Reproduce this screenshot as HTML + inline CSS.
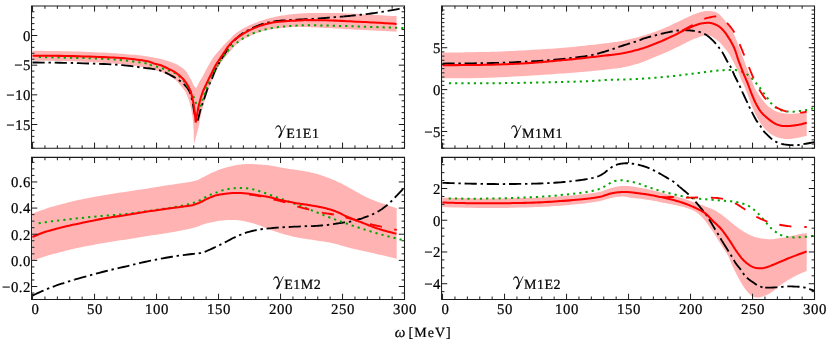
<!DOCTYPE html>
<html><head><meta charset="utf-8"><title>plot</title>
<style>
html,body{margin:0;padding:0;background:#fff;}
body{width:830px;height:341px;overflow:hidden;font-family:"Liberation Serif",serif;}
svg{display:block;}
text{font-family:"Liberation Serif",serif;fill:#000;stroke:#000;stroke-width:0.22px;text-rendering:geometricPrecision;}
.t{font-size:14.8px;letter-spacing:0.5px;}
.gs{font-size:14px;letter-spacing:0.5px;}
.w{font-size:14px;letter-spacing:1px;}
.wi{font-style:italic;font-size:15px;letter-spacing:0;}
</style></head><body>
<svg width="830" height="341" viewBox="0 0 830 341">
<rect width="830" height="341" fill="#fff"/>
<g>
<clipPath id="cp1"><rect x="31.55" y="5.9" width="372.95" height="142.35"/></clipPath>
<g clip-path="url(#cp1)">
<path d="M32.5 50.7 L37.01 50.77 L41.49 50.83 L45.97 50.89 L50.44 50.94 L54.94 51.01 L59.47 51.09 L64.06 51.18 L68.7 51.3 L73.55 51.45 L78.65 51.61 L83.88 51.8 L89.11 52 L94.2 52.21 L99.03 52.41 L103.47 52.61 L107.4 52.8 L110.74 52.98 L113.59 53.14 L116.06 53.31 L118.26 53.47 L120.32 53.64 L122.33 53.81 L124.42 54 L126.7 54.2 L129.14 54.41 L131.6 54.63 L134.08 54.86 L136.56 55.09 L139 55.34 L141.41 55.61 L143.75 55.89 L146 56.2 L148.18 56.53 L150.32 56.88 L152.41 57.25 L154.45 57.63 L156.43 58.03 L158.35 58.44 L160.21 58.87 L162 59.3 L163.73 59.75 L165.41 60.22 L167.04 60.7 L168.6 61.19 L170.09 61.7 L171.51 62.2 L172.85 62.7 L174.1 63.2 L175.25 63.69 L176.3 64.19 L177.26 64.68 L178.16 65.18 L178.99 65.67 L179.78 66.18 L180.55 66.68 L181.3 67.2 L182.01 67.7 L182.67 68.16 L183.27 68.62 L183.84 69.09 L184.4 69.6 L184.95 70.15 L185.51 70.78 L186.1 71.5 L186.73 72.36 L187.39 73.35 L188.06 74.43 L188.72 75.56 L189.37 76.68 L189.98 77.76 L190.53 78.75 L191 79.6 L191.39 80.33 L191.72 80.98 L192 81.56 L192.23 82.08 L192.44 82.56 L192.62 83 L192.81 83.41 L193 83.8 L193.19 84.15 L193.35 84.44 L193.49 84.68 L193.63 84.9 L193.76 85.1 L193.89 85.31 L194.04 85.54 L194.2 85.8 L194.38 86.1 L194.57 86.41 L194.77 86.73 L194.97 87.06 L195.18 87.4 L195.39 87.74 L195.6 88.07 L195.8 88.4 L195.8 88.4 L195.98 88.11 L196.16 87.85 L196.33 87.59 L196.51 87.33 L196.69 87.05 L196.88 86.74 L197.08 86.4 L197.3 86 L197.54 85.55 L197.78 85.05 L198.04 84.52 L198.31 83.96 L198.59 83.37 L198.88 82.78 L199.18 82.19 L199.5 81.6 L199.82 81.05 L200.13 80.55 L200.45 80.06 L200.78 79.55 L201.14 78.99 L201.54 78.35 L201.99 77.6 L202.5 76.7 L203.09 75.62 L203.74 74.36 L204.46 72.99 L205.21 71.53 L205.97 70.05 L206.74 68.58 L207.49 67.19 L208.2 65.9 L208.88 64.71 L209.53 63.57 L210.18 62.46 L210.82 61.39 L211.47 60.34 L212.13 59.31 L212.8 58.3 L213.5 57.3 L214.24 56.3 L215.01 55.31 L215.81 54.33 L216.61 53.37 L217.41 52.44 L218.18 51.55 L218.92 50.7 L219.6 49.9 L220.22 49.17 L220.78 48.5 L221.3 47.89 L221.81 47.31 L222.3 46.74 L222.8 46.18 L223.33 45.6 L223.9 45 L224.5 44.38 L225.12 43.76 L225.75 43.14 L226.39 42.52 L227.05 41.89 L227.72 41.24 L228.41 40.58 L229.1 39.9 L229.81 39.18 L230.54 38.42 L231.29 37.64 L232.05 36.84 L232.81 36.06 L233.58 35.29 L234.34 34.57 L235.1 33.9 L235.85 33.28 L236.6 32.7 L237.35 32.15 L238.09 31.63 L238.84 31.13 L239.59 30.64 L240.35 30.17 L241.1 29.7 L241.86 29.24 L242.62 28.8 L243.38 28.37 L244.15 27.96 L244.92 27.55 L245.68 27.16 L246.44 26.78 L247.2 26.4 L247.91 26.04 L248.57 25.72 L249.19 25.41 L249.83 25.11 L250.51 24.8 L251.28 24.47 L252.16 24.11 L253.2 23.7 L254.41 23.24 L255.78 22.73 L257.26 22.19 L258.82 21.62 L260.43 21.06 L262.05 20.51 L263.65 19.98 L265.2 19.5 L266.71 19.05 L268.22 18.62 L269.73 18.2 L271.25 17.8 L272.77 17.42 L274.28 17.06 L275.79 16.72 L277.3 16.4 L278.8 16.11 L280.3 15.84 L281.8 15.6 L283.3 15.38 L284.8 15.17 L286.3 14.98 L287.8 14.79 L289.3 14.6 L290.78 14.42 L292.24 14.24 L293.68 14.07 L295.12 13.91 L296.6 13.77 L298.13 13.63 L299.72 13.51 L301.4 13.4 L303.12 13.31 L304.85 13.23 L306.62 13.17 L308.45 13.11 L310.37 13.07 L312.42 13.04 L314.62 13.02 L317 13 L319.61 12.99 L322.43 12.98 L325.41 12.99 L328.52 13 L331.69 13.03 L334.88 13.07 L338.03 13.12 L341.1 13.2 L344.06 13.3 L346.95 13.42 L349.82 13.55 L352.69 13.71 L355.63 13.87 L358.66 14.04 L361.84 14.22 L365.2 14.4 L368.78 14.59 L372.54 14.79 L376.44 15 L380.44 15.22 L384.5 15.44 L388.58 15.66 L392.63 15.88 L396.6 16.1 L396.6 31.7 L394.22 31.58 L391.89 31.45 L389.57 31.33 L387.25 31.21 L384.89 31.09 L382.46 30.96 L379.94 30.83 L377.3 30.7 L374.52 30.56 L371.61 30.42 L368.61 30.27 L365.55 30.12 L362.45 29.97 L359.34 29.82 L356.25 29.66 L353.2 29.5 L350.21 29.33 L347.26 29.16 L344.32 28.98 L341.38 28.8 L338.4 28.62 L335.38 28.44 L332.28 28.27 L329.1 28.1 L325.7 27.93 L322.06 27.75 L318.29 27.57 L314.5 27.39 L310.8 27.22 L307.31 27.08 L304.14 26.97 L301.4 26.9 L299.14 26.87 L297.28 26.87 L295.72 26.9 L294.37 26.95 L293.14 27.02 L291.95 27.11 L290.7 27.2 L289.3 27.3 L287.8 27.41 L286.3 27.53 L284.8 27.67 L283.3 27.81 L281.8 27.97 L280.3 28.14 L278.8 28.32 L277.3 28.5 L275.79 28.68 L274.28 28.85 L272.77 29.03 L271.25 29.21 L269.73 29.42 L268.22 29.67 L266.71 29.96 L265.2 30.3 L263.7 30.7 L262.2 31.14 L260.7 31.62 L259.2 32.14 L257.7 32.69 L256.2 33.27 L254.7 33.87 L253.2 34.5 L251.65 35.17 L250.03 35.9 L248.38 36.67 L246.75 37.46 L245.17 38.25 L243.67 39.04 L242.3 39.79 L241.1 40.5 L240.08 41.17 L239.2 41.83 L238.44 42.46 L237.77 43.08 L237.17 43.68 L236.61 44.27 L236.06 44.84 L235.5 45.4 L234.96 45.92 L234.49 46.41 L234.06 46.86 L233.66 47.31 L233.26 47.76 L232.84 48.23 L232.4 48.74 L231.9 49.3 L231.35 49.92 L230.75 50.58 L230.13 51.28 L229.49 52 L228.85 52.73 L228.21 53.47 L227.59 54.19 L227 54.9 L226.43 55.59 L225.88 56.27 L225.34 56.94 L224.81 57.62 L224.28 58.3 L223.75 58.99 L223.23 59.68 L222.7 60.4 L222.18 61.09 L221.67 61.73 L221.17 62.36 L220.68 63.01 L220.17 63.72 L219.64 64.51 L219.09 65.43 L218.5 66.5 L217.86 67.8 L217.15 69.33 L216.41 71 L215.66 72.76 L214.92 74.51 L214.22 76.18 L213.57 77.7 L213 79 L212.53 80.04 L212.13 80.87 L211.79 81.57 L211.48 82.18 L211.19 82.77 L210.89 83.4 L210.57 84.12 L210.2 85 L209.79 86.01 L209.36 87.09 L208.91 88.23 L208.45 89.42 L207.99 90.66 L207.52 91.94 L207.06 93.26 L206.6 94.6 L206.14 96.01 L205.67 97.51 L205.2 99.06 L204.73 100.65 L204.26 102.24 L203.82 103.79 L203.39 105.29 L203 106.7 L202.64 108.02 L202.3 109.27 L201.99 110.48 L201.69 111.65 L201.4 112.8 L201.13 113.95 L200.86 115.11 L200.6 116.3 L200.37 117.45 L200.18 118.52 L200.01 119.55 L199.85 120.61 L199.67 121.73 L199.45 122.97 L199.16 124.38 L198.8 126 L198.34 127.88 L197.81 129.97 L197.22 132.23 L196.59 134.61 L195.93 137.06 L195.27 139.52 L194.62 141.95 L194 144.3 L194 144.3 L193.93 141.96 L193.86 139.55 L193.8 137.11 L193.74 134.69 L193.67 132.32 L193.59 130.05 L193.5 127.93 L193.4 126 L193.29 124.29 L193.17 122.78 L193.05 121.42 L192.91 120.16 L192.76 118.94 L192.6 117.73 L192.41 116.46 L192.2 115.1 L191.97 113.64 L191.71 112.12 L191.45 110.58 L191.16 109.02 L190.85 107.48 L190.52 105.96 L190.17 104.5 L189.8 103.1 L189.38 101.73 L188.91 100.34 L188.4 98.97 L187.87 97.65 L187.36 96.4 L186.88 95.26 L186.45 94.25 L186.1 93.4 L185.85 92.78 L185.71 92.37 L185.63 92.13 L185.57 91.98 L185.5 91.85 L185.39 91.69 L185.21 91.43 L184.9 91 L184.48 90.41 L183.98 89.73 L183.42 88.98 L182.8 88.18 L182.15 87.34 L181.47 86.5 L180.78 85.68 L180.1 84.9 L179.45 84.15 L178.83 83.41 L178.21 82.67 L177.56 81.93 L176.85 81.19 L176.06 80.44 L175.15 79.68 L174.1 78.9 L172.91 78.09 L171.6 77.24 L170.18 76.38 L168.68 75.51 L167.09 74.65 L165.44 73.82 L163.74 73.03 L162 72.3 L160.2 71.63 L158.32 70.99 L156.37 70.38 L154.37 69.81 L152.32 69.27 L150.23 68.76 L148.12 68.27 L146 67.8 L143.86 67.36 L141.7 66.96 L139.51 66.59 L137.29 66.24 L135.03 65.92 L132.73 65.6 L130.39 65.3 L128 65 L125.67 64.71 L123.46 64.44 L121.26 64.18 L118.99 63.94 L116.56 63.7 L113.88 63.47 L110.86 63.23 L107.4 63 L103.41 62.76 L98.94 62.51 L94.1 62.26 L89.03 62.01 L83.82 61.78 L78.62 61.56 L73.54 61.37 L68.7 61.2 L64.06 61.07 L59.47 60.97 L54.94 60.89 L50.44 60.83 L45.97 60.77 L41.49 60.72 L37.01 60.67 L32.5 60.6 Z" fill="#ffb3b3" stroke="none"/>
<path d="M32.5 62.5 L37.01 62.54 L41.49 62.58 L45.97 62.61 L50.44 62.64 L54.94 62.68 L59.47 62.74 L64.06 62.81 L68.7 62.9 L73.55 63.02 L78.65 63.16 L83.88 63.32 L89.11 63.49 L94.2 63.67 L99.03 63.85 L103.47 64.03 L107.4 64.2 L110.74 64.36 L113.59 64.52 L116.06 64.67 L118.26 64.83 L120.32 64.99 L122.33 65.17 L124.42 65.37 L126.7 65.6 L129.22 65.87 L131.88 66.2 L134.61 66.55 L137.31 66.91 L139.88 67.27 L142.25 67.6 L144.32 67.88 L146 68.1 L147.18 68.24 L147.89 68.3 L148.27 68.31 L148.46 68.29 L148.59 68.28 L148.8 68.29 L149.22 68.36 L150 68.5 L151.12 68.7 L152.44 68.92 L153.91 69.16 L155.49 69.45 L157.14 69.78 L158.81 70.16 L160.44 70.6 L162 71.1 L163.54 71.7 L165.13 72.39 L166.75 73.15 L168.35 73.96 L169.92 74.79 L171.42 75.6 L172.82 76.38 L174.1 77.1 L175.25 77.76 L176.3 78.39 L177.26 79 L178.16 79.59 L178.99 80.17 L179.78 80.74 L180.55 81.32 L181.3 81.9 L182.02 82.48 L182.69 83.04 L183.32 83.59 L183.92 84.14 L184.49 84.7 L185.03 85.28 L185.57 85.87 L186.1 86.5 L186.62 87.14 L187.13 87.78 L187.63 88.43 L188.1 89.11 L188.56 89.81 L188.99 90.55 L189.41 91.35 L189.8 92.2 L190.16 93.1 L190.49 94.02 L190.8 94.98 L191.08 95.98 L191.36 97.05 L191.63 98.18 L191.91 99.39 L192.2 100.7 L192.5 102.15 L192.81 103.77 L193.13 105.49 L193.44 107.26 L193.74 109.04 L194.04 110.78 L194.33 112.41 L194.6 113.9 L194.85 115.23 L195.09 116.46 L195.32 117.61 L195.54 118.71 L195.75 119.77 L195.96 120.82 L196.18 121.89 L196.4 123 L196.4 123 L196.62 122.5 L196.84 122.04 L197.05 121.6 L197.26 121.16 L197.48 120.67 L197.71 120.12 L197.95 119.47 L198.2 118.7 L198.46 117.81 L198.72 116.82 L198.98 115.75 L199.25 114.61 L199.54 113.41 L199.86 112.15 L200.21 110.84 L200.6 109.5 L201.04 108.08 L201.54 106.57 L202.07 104.98 L202.62 103.35 L203.19 101.71 L203.75 100.08 L204.29 98.5 L204.8 97 L205.28 95.54 L205.76 94.07 L206.22 92.62 L206.68 91.2 L207.12 89.83 L207.56 88.53 L207.98 87.31 L208.4 86.2 L208.8 85.24 L209.18 84.43 L209.54 83.72 L209.89 83.07 L210.25 82.44 L210.61 81.76 L211 81 L211.4 80.1 L211.81 79.08 L212.22 77.98 L212.64 76.81 L213.06 75.6 L213.51 74.35 L214 73.07 L214.52 71.79 L215.1 70.5 L215.74 69.18 L216.45 67.81 L217.21 66.4 L217.99 64.97 L218.79 63.56 L219.59 62.18 L220.36 60.85 L221.1 59.6 L221.81 58.42 L222.5 57.31 L223.19 56.23 L223.86 55.19 L224.53 54.18 L225.19 53.19 L225.85 52.19 L226.5 51.2 L227.11 50.22 L227.67 49.28 L228.2 48.36 L228.74 47.44 L229.31 46.52 L229.94 45.59 L230.66 44.62 L231.5 43.6 L232.46 42.52 L233.52 41.38 L234.65 40.2 L235.86 39 L237.11 37.81 L238.42 36.65 L239.75 35.54 L241.1 34.5 L242.49 33.52 L243.95 32.58 L245.46 31.68 L247 30.81 L248.56 29.97 L250.12 29.18 L251.68 28.42 L253.2 27.7 L254.7 27.02 L256.2 26.38 L257.7 25.78 L259.2 25.22 L260.7 24.69 L262.2 24.2 L263.7 23.73 L265.2 23.3 L266.71 22.9 L268.22 22.55 L269.73 22.23 L271.25 21.94 L272.77 21.68 L274.28 21.43 L275.79 21.21 L277.3 21 L278.79 20.81 L280.27 20.65 L281.73 20.52 L283.2 20.4 L284.68 20.3 L286.18 20.2 L287.72 20.1 L289.3 20 L290.93 19.9 L292.6 19.8 L294.3 19.72 L296.03 19.63 L297.77 19.55 L299.51 19.47 L301.26 19.39 L303 19.3 L304.75 19.21 L306.52 19.13 L308.31 19.05 L310.1 18.97 L311.88 18.88 L313.63 18.8 L315.34 18.7 L317 18.6 L318.6 18.49 L320.16 18.37 L321.68 18.24 L323.18 18.11 L324.65 17.98 L326.13 17.85 L327.61 17.72 L329.1 17.6 L330.6 17.48 L332.1 17.38 L333.6 17.27 L335.1 17.16 L336.6 17.06 L338.1 16.94 L339.6 16.83 L341.1 16.7 L342.61 16.56 L343.6 16.47" fill="none" stroke="#000" stroke-width="1.85" stroke-dasharray="12.2 3.8 2.4 3.8"/>
<path d="M343.6 16.47 L344.12 16.42 L345.63 16.27 L347.15 16.12 L348.67 15.96 L350.18 15.81 L351.69 15.65 L353.2 15.5 L354.7 15.35 L356.2 15.21 L357.7 15.07 L359.2 14.93 L360.7 14.79 L362.2 14.64 L363.7 14.47 L365.2 14.3 L366.71 14.11 L368.22 13.91 L369.73 13.71 L371.25 13.49 L372.77 13.27 L374.28 13.05 L375.79 12.83 L377.3 12.6 L378.81 12.37 L380.33 12.14 L381.86 11.91 L383.38 11.67 L384.88 11.44 L386.38 11.19 L387.85 10.95 L389.3 10.7 L390.76 10.44 L392.26 10.16 L393.76 9.87 L395.23 9.58 L396.64 9.3 L397.96 9.04 L399.16 8.8 L400.2 8.6 L401.05 8.44 L401.74 8.31 L402.3 8.2 L402.76 8.12 L403.18 8.04 L403.58 7.97 L404.01 7.89 L404.5 7.8" fill="none" stroke="#000" stroke-width="1.85" stroke-dasharray="12.2 3.8 2.4 3.8"/>
<path d="M38.8 57.05 L47.58 57.28 L56.65 57.48 L65.84 57.68 L74.97 57.88 L83.87 58.1 L92.36 58.35 L100.26 58.64 L107.4 59 L113.89 59.44 L119.94 59.97 L125.54 60.55 L130.66 61.16 L135.29 61.77 L139.4 62.35 L142.98 62.87 L146 63.3 L148.2 63.63 L149.49 63.88 L150.09 64.08 L150.26 64.24 L150.21 64.4 L150.2 64.58 L150.45 64.81 L151.2 65.1 L152.39 65.46 L153.76 65.86 L155.26 66.29 L156.86 66.75 L158.51 67.23 L160.16 67.72 L161.77 68.21 L163.3 68.7 L164.79 69.19 L166.32 69.69 L167.85 70.19 L169.36 70.71 L170.83 71.23 L172.23 71.77 L173.52 72.33 L174.7 72.9 L175.74 73.49 L176.66 74.09 L177.49 74.71 L178.25 75.34 L178.96 75.98 L179.64 76.64 L180.31 77.31 L181 78 L181.69 78.7 L182.36 79.43 L183.01 80.16 L183.64 80.91 L184.26 81.67 L184.85 82.44 L185.43 83.22 L186 84 L186.55 84.79 L187.08 85.6 L187.6 86.43 L188.1 87.26 L188.59 88.08 L189.07 88.91 L189.54 89.71 L190 90.5 L190.46 91.26 L190.92 92.01 L191.36 92.75 L191.8 93.47 L192.22 94.2 L192.63 94.92 L193.03 95.66 L193.4 96.4 L193.75 97.14 L194.06 97.88 L194.36 98.61 L194.64 99.35 L194.92 100.1 L195.2 100.87 L195.49 101.67 L195.8 102.5 L196.12 103.37 L196.45 104.28 L196.79 105.21 L197.13 106.16 L197.47 107.13 L197.82 108.09 L198.16 109.05 L198.5 110 L198.5 110 L198.69 109.76 L198.87 109.57 L199.05 109.38 L199.23 109.19 L199.42 108.97 L199.6 108.7 L199.8 108.35 L200 107.9 L200.21 107.33 L200.43 106.66 L200.65 105.91 L200.88 105.11 L201.11 104.28 L201.34 103.46 L201.57 102.65 L201.8 101.9 L202.02 101.2 L202.24 100.52 L202.45 99.86 L202.66 99.21 L202.88 98.54 L203.11 97.86 L203.35 97.15 L203.6 96.4 L203.87 95.59 L204.16 94.73 L204.46 93.84 L204.76 92.93 L205.07 92.02 L205.39 91.14 L205.7 90.29 L206 89.5 L206.29 88.81 L206.56 88.21 L206.82 87.67 L207.08 87.14 L207.36 86.59 L207.67 85.95 L208.01 85.21 L208.4 84.3 L208.85 83.18 L209.36 81.87 L209.9 80.42 L210.47 78.91 L211.06 77.4 L211.63 75.95 L212.18 74.63 L212.7 73.5 L213.19 72.57 L213.66 71.79 L214.13 71.11 L214.58 70.51 L215.02 69.94 L215.46 69.37 L215.88 68.77 L216.3 68.1 L216.7 67.36 L217.08 66.59 L217.44 65.81 L217.8 65.01 L218.16 64.22 L218.52 63.45 L218.9 62.71 L219.3 62 L219.72 61.34 L220.14 60.72 L220.58 60.13 L221.03 59.56 L221.48 58.99 L221.94 58.41 L222.42 57.82 L222.9 57.2 L223.4 56.55 L223.91 55.87 L224.44 55.17 L224.98 54.47 L225.52 53.77 L226.06 53.09 L226.59 52.43 L227.1 51.8 L227.6 51.21 L228.08 50.63 L228.55 50.08 L229.02 49.54 L229.49 49.02 L229.98 48.51 L230.48 48 L231 47.5 L231.55 47.01 L232.11 46.54 L232.69 46.08 L233.28 45.62 L233.87 45.18 L234.48 44.73 L235.09 44.27 L235.7 43.8 L236.32 43.32 L236.94 42.82 L237.58 42.32 L238.22 41.82 L238.86 41.32 L239.51 40.83 L240.15 40.36 L240.8 39.9 L241.44 39.46 L242.08 39.04 L242.72 38.63 L243.36 38.23 L244.01 37.84 L244.66 37.46 L245.33 37.08 L246 36.7 L246.69 36.33 L247.38 35.96 L248.09 35.59 L248.8 35.24 L249.52 34.89 L250.24 34.55 L250.97 34.22 L251.7 33.9 L252.44 33.59 L253.18 33.3 L253.93 33.01 L254.68 32.74 L255.44 32.47 L256.19 32.21 L256.95 31.95 L257.7 31.7 L258.45 31.45 L259.2 31.21 L259.95 30.98 L260.7 30.75 L261.45 30.53 L262.2 30.31 L262.95 30.1 L263.7 29.9 L264.45 29.7 L265.2 29.51 L265.95 29.33 L266.7 29.16 L267.45 28.99 L268.2 28.82 L268.95 28.66 L269.7 28.5 L270.45 28.35 L271.19 28.19 L271.93 28.05 L272.67 27.91 L273.42 27.77 L274.17 27.64 L274.93 27.52 L275.7 27.4 L276.48 27.29 L277.28 27.19 L278.09 27.1 L278.9 27.02 L279.71 26.94 L280.52 26.86 L281.32 26.78 L282.1 26.7 L282.87 26.62 L283.62 26.54 L284.37 26.46 L285.11 26.38 L285.85 26.31 L286.59 26.23 L287.34 26.16 L288.1 26.1 L288.87 26.04 L289.65 25.98 L290.44 25.93 L291.23 25.88 L292.02 25.83 L292.81 25.78 L293.61 25.74 L294.4 25.7 L295.2 25.67 L296 25.64 L296.81 25.62 L297.62 25.6 L298.42 25.58 L299.23 25.56 L300.02 25.53 L300.8 25.5 L301.44 25.45 L301.89 25.39 L302.26 25.32 L302.66 25.25 L303.2 25.19 L303.99 25.13 L305.16 25.1 L306.8 25.1 L308.99 25.13 L311.65 25.18 L314.67 25.25 L317.94 25.33 L321.37 25.42 L324.84 25.52 L328.26 25.61 L331.5 25.7 L334.64 25.78 L337.8 25.86 L340.97 25.95 L344.15 26.03 L347.33 26.12 L350.5 26.21 L353.66 26.3 L356.8 26.4 L359.96 26.5 L363.16 26.62 L366.37 26.74 L369.56 26.86 L372.7 26.98 L375.76 27.09 L378.7 27.2 L381.5 27.3 L384.22 27.39 L386.93 27.48 L389.58 27.57 L392.12 27.65 L394.51 27.72 L396.68 27.79 L398.59 27.85 L400.2 27.9 L401.43 27.94 L402.29 27.96 L402.87 27.97 L403.25 27.98 L403.52 27.98 L403.76 27.99 L404.06 27.99 L404.5 28" fill="none" stroke="#04a604" stroke-width="2" stroke-dasharray="2.2 4.03" stroke-dashoffset="6.23"/>
<path d="M32.5 55.8 L37.01 55.82 L41.49 55.82 L45.97 55.83 L50.44 55.83 L54.94 55.84 L59.47 55.87 L64.06 55.92 L68.7 56 L73.55 56.11 L78.65 56.25 L83.88 56.41 L89.11 56.59 L94.2 56.77 L99.03 56.96 L103.47 57.13 L107.4 57.3 L110.74 57.45 L113.59 57.58 L116.06 57.7 L118.26 57.82 L120.32 57.96 L122.33 58.11 L124.42 58.29 L126.7 58.5 L129.19 58.75 L131.79 59.04 L134.43 59.35 L137.06 59.67 L139.59 60.01 L141.97 60.35 L144.13 60.68 L146 61 L147.54 61.3 L148.79 61.61 L149.83 61.91 L150.71 62.21 L151.5 62.5 L152.26 62.8 L153.08 63.1 L154 63.4 L154.97 63.68 L155.9 63.92 L156.82 64.15 L157.74 64.38 L158.7 64.64 L159.71 64.95 L160.8 65.33 L162 65.8 L163.35 66.37 L164.85 67.04 L166.45 67.77 L168.1 68.56 L169.74 69.36 L171.32 70.17 L172.79 70.96 L174.1 71.7 L175.25 72.41 L176.3 73.1 L177.26 73.79 L178.16 74.47 L178.99 75.15 L179.78 75.83 L180.55 76.51 L181.3 77.2 L182.02 77.89 L182.69 78.57 L183.32 79.24 L183.92 79.92 L184.49 80.62 L185.03 81.32 L185.57 82.05 L186.1 82.8 L186.63 83.59 L187.14 84.41 L187.64 85.26 L188.12 86.12 L188.59 86.98 L189.02 87.84 L189.43 88.68 L189.8 89.5 L190.13 90.26 L190.42 90.97 L190.67 91.64 L190.9 92.32 L191.12 93.02 L191.33 93.79 L191.56 94.64 L191.8 95.6 L192.06 96.68 L192.33 97.86 L192.61 99.11 L192.89 100.43 L193.16 101.79 L193.42 103.19 L193.67 104.59 L193.9 106 L194.12 107.47 L194.32 109.06 L194.52 110.71 L194.71 112.37 L194.88 113.98 L195.04 115.49 L195.18 116.85 L195.3 118 L195.4 118.92 L195.47 119.65 L195.52 120.24 L195.56 120.72 L195.59 121.14 L195.62 121.55 L195.66 121.99 L195.7 122.5 L195.7 122.5 L195.76 122.09 L195.81 121.77 L195.84 121.49 L195.88 121.19 L195.94 120.81 L196.02 120.31 L196.13 119.62 L196.3 118.7 L196.52 117.49 L196.77 116.04 L197.06 114.39 L197.38 112.62 L197.71 110.78 L198.07 108.94 L198.43 107.16 L198.8 105.5 L199.18 103.9 L199.59 102.29 L200.01 100.68 L200.45 99.1 L200.89 97.56 L201.34 96.08 L201.77 94.69 L202.2 93.4 L202.61 92.24 L203.02 91.19 L203.43 90.23 L203.83 89.33 L204.24 88.47 L204.65 87.61 L205.07 86.73 L205.5 85.8 L205.95 84.83 L206.41 83.83 L206.88 82.83 L207.35 81.83 L207.82 80.84 L208.29 79.86 L208.75 78.91 L209.2 78 L209.64 77.12 L210.06 76.26 L210.49 75.43 L210.91 74.61 L211.32 73.81 L211.72 73.03 L212.11 72.26 L212.5 71.5 L212.86 70.76 L213.2 70.06 L213.52 69.38 L213.84 68.71 L214.16 68.04 L214.51 67.36 L214.88 66.65 L215.3 65.9 L215.76 65.12 L216.25 64.32 L216.77 63.5 L217.31 62.66 L217.87 61.81 L218.44 60.95 L219.02 60.08 L219.6 59.2 L220.2 58.3 L220.82 57.37 L221.45 56.42 L222.1 55.47 L222.75 54.52 L223.38 53.58 L224 52.67 L224.6 51.8 L225.16 50.97 L225.68 50.17 L226.18 49.39 L226.68 48.63 L227.18 47.88 L227.71 47.13 L228.28 46.37 L228.9 45.6 L229.59 44.8 L230.32 43.98 L231.09 43.15 L231.89 42.33 L232.71 41.51 L233.52 40.73 L234.32 39.99 L235.1 39.3 L235.86 38.67 L236.61 38.09 L237.36 37.54 L238.11 37.03 L238.85 36.54 L239.6 36.06 L240.35 35.58 L241.1 35.1 L241.86 34.62 L242.62 34.14 L243.38 33.68 L244.15 33.23 L244.92 32.78 L245.68 32.34 L246.44 31.92 L247.2 31.5 L247.95 31.09 L248.71 30.69 L249.46 30.3 L250.21 29.93 L250.95 29.55 L251.7 29.19 L252.45 28.84 L253.2 28.5 L253.95 28.17 L254.7 27.84 L255.45 27.53 L256.2 27.22 L256.95 26.93 L257.7 26.64 L258.45 26.37 L259.2 26.1 L259.95 25.84 L260.7 25.6 L261.45 25.37 L262.19 25.14 L262.94 24.93 L263.69 24.71 L264.45 24.51 L265.2 24.3 L265.96 24.09 L266.72 23.89 L267.48 23.69 L268.25 23.49 L269.02 23.31 L269.78 23.13 L270.54 22.96 L271.3 22.8 L272.01 22.66 L272.67 22.54 L273.29 22.42 L273.93 22.32 L274.61 22.22 L275.38 22.12 L276.26 22.01 L277.3 21.9 L278.51 21.78 L279.88 21.65 L281.36 21.51 L282.92 21.38 L284.53 21.24 L286.15 21.12 L287.75 21 L289.3 20.9 L290.87 20.81 L292.52 20.74 L294.2 20.67 L295.88 20.61 L297.48 20.55 L298.97 20.5 L300.29 20.45 L301.4 20.4 L302.12 20.35 L302.42 20.3 L302.47 20.25 L302.45 20.2 L302.52 20.16 L302.86 20.13 L303.63 20.11 L305 20.1 L307.03 20.1 L309.58 20.11 L312.54 20.13 L315.77 20.16 L319.16 20.2 L322.59 20.25 L325.95 20.32 L329.1 20.4 L332.11 20.5 L335.12 20.62 L338.14 20.75 L341.15 20.89 L344.16 21.05 L347.18 21.2 L350.19 21.35 L353.2 21.5 L356.25 21.65 L359.34 21.79 L362.45 21.94 L365.55 22.09 L368.61 22.25 L371.61 22.4 L374.52 22.55 L377.3 22.7 L379.94 22.85 L382.46 23 L384.89 23.15 L387.25 23.3 L389.57 23.45 L391.89 23.6 L394.22 23.75 L396.6 23.9" fill="none" stroke="#ff0000" stroke-width="2.05"/>
</g>
<path d="M32.55 5.9 v5.7 M32.55 148.25 v-5.7 M44.95 5.9 v2.9 M44.95 148.25 v-2.9 M57.35 5.9 v2.9 M57.35 148.25 v-2.9 M69.75 5.9 v2.9 M69.75 148.25 v-2.9 M82.15 5.9 v2.9 M82.15 148.25 v-2.9 M94.55 5.9 v5.7 M94.55 148.25 v-5.7 M106.95 5.9 v2.9 M106.95 148.25 v-2.9 M119.35 5.9 v2.9 M119.35 148.25 v-2.9 M131.75 5.9 v2.9 M131.75 148.25 v-2.9 M144.15 5.9 v2.9 M144.15 148.25 v-2.9 M156.55 5.9 v5.7 M156.55 148.25 v-5.7 M168.95 5.9 v2.9 M168.95 148.25 v-2.9 M181.35 5.9 v2.9 M181.35 148.25 v-2.9 M193.75 5.9 v2.9 M193.75 148.25 v-2.9 M206.15 5.9 v2.9 M206.15 148.25 v-2.9 M218.55 5.9 v5.7 M218.55 148.25 v-5.7 M230.95 5.9 v2.9 M230.95 148.25 v-2.9 M243.35 5.9 v2.9 M243.35 148.25 v-2.9 M255.75 5.9 v2.9 M255.75 148.25 v-2.9 M268.15 5.9 v2.9 M268.15 148.25 v-2.9 M280.55 5.9 v5.7 M280.55 148.25 v-5.7 M292.95 5.9 v2.9 M292.95 148.25 v-2.9 M305.35 5.9 v2.9 M305.35 148.25 v-2.9 M317.75 5.9 v2.9 M317.75 148.25 v-2.9 M330.15 5.9 v2.9 M330.15 148.25 v-2.9 M342.55 5.9 v5.7 M342.55 148.25 v-5.7 M354.95 5.9 v2.9 M354.95 148.25 v-2.9 M367.35 5.9 v2.9 M367.35 148.25 v-2.9 M379.75 5.9 v2.9 M379.75 148.25 v-2.9 M392.15 5.9 v2.9 M392.15 148.25 v-2.9 M404.55 5.9 v5.7 M404.55 148.25 v-5.7 M31.55 148.23 h2.9 M404.5 148.23 h-2.9 M31.55 142.3 h2.9 M404.5 142.3 h-2.9 M31.55 136.37 h2.9 M404.5 136.37 h-2.9 M31.55 130.43 h2.9 M404.5 130.43 h-2.9 M31.55 124.5 h5.7 M404.5 124.5 h-5.7 M31.55 118.57 h2.9 M404.5 118.57 h-2.9 M31.55 112.63 h2.9 M404.5 112.63 h-2.9 M31.55 106.7 h2.9 M404.5 106.7 h-2.9 M31.55 100.77 h2.9 M404.5 100.77 h-2.9 M31.55 94.83 h5.7 M404.5 94.83 h-5.7 M31.55 88.9 h2.9 M404.5 88.9 h-2.9 M31.55 82.97 h2.9 M404.5 82.97 h-2.9 M31.55 77.03 h2.9 M404.5 77.03 h-2.9 M31.55 71.1 h2.9 M404.5 71.1 h-2.9 M31.55 65.17 h5.7 M404.5 65.17 h-5.7 M31.55 59.23 h2.9 M404.5 59.23 h-2.9 M31.55 53.3 h2.9 M404.5 53.3 h-2.9 M31.55 47.37 h2.9 M404.5 47.37 h-2.9 M31.55 41.43 h2.9 M404.5 41.43 h-2.9 M31.55 35.5 h5.7 M404.5 35.5 h-5.7 M31.55 29.57 h2.9 M404.5 29.57 h-2.9 M31.55 23.63 h2.9 M404.5 23.63 h-2.9 M31.55 17.7 h2.9 M404.5 17.7 h-2.9 M31.55 11.77 h2.9 M404.5 11.77 h-2.9" stroke="#1c1c1c" stroke-width="1.0" fill="none"/>
<path d="M31.55 5.9 H404.5 V148.25 H31.55 Z" fill="none" stroke="#1c1c1c" stroke-width="1.05"/>
</g>
<g>
<clipPath id="cp2"><rect x="441.55" y="5.9" width="372.95" height="142.35"/></clipPath>
<g clip-path="url(#cp2)">
<path d="M442.4 52.7 L448.29 52.6 L454.41 52.5 L460.63 52.4 L466.8 52.3 L472.78 52.2 L478.44 52.1 L483.62 52 L488.2 51.9 L492.04 51.8 L495.23 51.72 L497.93 51.63 L500.31 51.54 L502.54 51.45 L504.79 51.35 L507.22 51.23 L510 51.1 L513.1 50.95 L516.33 50.78 L519.66 50.59 L523.06 50.4 L526.47 50.2 L529.85 50 L533.18 49.8 L536.4 49.6 L539.52 49.41 L542.59 49.22 L545.61 49.04 L548.59 48.85 L551.56 48.66 L554.53 48.45 L557.5 48.23 L560.5 48 L563.51 47.75 L566.52 47.49 L569.54 47.21 L572.55 46.92 L575.56 46.63 L578.58 46.33 L581.59 46.02 L584.6 45.7 L587.68 45.37 L590.85 45.02 L594.06 44.66 L597.26 44.29 L600.37 43.93 L603.36 43.57 L606.15 43.22 L608.7 42.9 L610.95 42.61 L612.92 42.35 L614.7 42.11 L616.35 41.88 L617.94 41.64 L619.55 41.37 L621.25 41.06 L623.1 40.7 L625.1 40.29 L627.17 39.83 L629.29 39.35 L631.45 38.84 L633.62 38.3 L635.78 37.75 L637.91 37.18 L640 36.6 L642.07 36 L644.15 35.37 L646.23 34.72 L648.29 34.06 L650.32 33.38 L652.29 32.71 L654.19 32.05 L656 31.4 L657.71 30.77 L659.32 30.15 L660.86 29.54 L662.35 28.93 L663.81 28.32 L665.25 27.69 L666.71 27.06 L668.2 26.4 L669.71 25.72 L671.21 25.02 L672.71 24.31 L674.21 23.59 L675.7 22.86 L677.2 22.13 L678.7 21.41 L680.2 20.7 L681.74 19.98 L683.32 19.23 L684.92 18.47 L686.51 17.72 L688.07 16.99 L689.58 16.3 L690.99 15.67 L692.3 15.1 L693.49 14.61 L694.59 14.17 L695.62 13.78 L696.58 13.43 L697.5 13.12 L698.38 12.83 L699.24 12.56 L700.1 12.3 L700.94 12.05 L701.72 11.83 L702.48 11.63 L703.21 11.46 L703.92 11.3 L704.64 11.18 L705.36 11.08 L706.1 11 L706.86 10.95 L707.62 10.92 L708.38 10.92 L709.15 10.94 L709.92 10.99 L710.68 11.06 L711.44 11.17 L712.2 11.3 L712.95 11.45 L713.7 11.59 L714.44 11.76 L715.19 11.96 L715.93 12.2 L716.68 12.52 L717.44 12.91 L718.2 13.4 L718.98 14.01 L719.78 14.72 L720.59 15.53 L721.4 16.39 L722.2 17.3 L723 18.22 L723.76 19.13 L724.5 20 L725.21 20.86 L725.91 21.74 L726.6 22.63 L727.27 23.52 L727.92 24.42 L728.54 25.3 L729.13 26.16 L729.7 27 L730.23 27.81 L730.73 28.6 L731.19 29.37 L731.64 30.13 L732.06 30.88 L732.48 31.64 L732.89 32.41 L733.3 33.2 L733.71 34.02 L734.12 34.86 L734.52 35.71 L734.91 36.57 L735.29 37.42 L735.65 38.25 L735.99 39.04 L736.3 39.8 L736.58 40.5 L736.82 41.16 L737.04 41.79 L737.24 42.39 L737.43 42.99 L737.64 43.6 L737.85 44.23 L738.1 44.9 L738.36 45.57 L738.63 46.23 L738.9 46.89 L739.19 47.56 L739.49 48.27 L739.8 49.04 L740.14 49.88 L740.5 50.8 L740.89 51.83 L741.32 52.96 L741.76 54.16 L742.22 55.42 L742.7 56.7 L743.17 57.99 L743.64 59.27 L744.1 60.5 L744.56 61.73 L745.02 62.98 L745.49 64.25 L745.95 65.51 L746.41 66.74 L746.86 67.93 L747.29 69.05 L747.7 70.1 L748.09 71.06 L748.48 71.94 L748.84 72.76 L749.2 73.53 L749.54 74.28 L749.88 75.01 L750.19 75.75 L750.5 76.5 L750.78 77.25 L751.02 77.95 L751.24 78.64 L751.45 79.33 L751.67 80.03 L751.91 80.77 L752.18 81.55 L752.5 82.4 L752.86 83.33 L753.26 84.33 L753.68 85.39 L754.12 86.47 L754.58 87.56 L755.07 88.65 L755.58 89.7 L756.1 90.7 L756.65 91.66 L757.24 92.61 L757.85 93.53 L758.48 94.44 L759.11 95.34 L759.75 96.21 L760.38 97.06 L761 97.9 L761.6 98.72 L762.21 99.53 L762.81 100.32 L763.41 101.09 L764 101.83 L764.6 102.55 L765.2 103.24 L765.8 103.9 L766.39 104.52 L766.97 105.09 L767.55 105.64 L768.12 106.16 L768.71 106.66 L769.32 107.14 L769.94 107.62 L770.6 108.1 L771.28 108.58 L771.96 109.06 L772.65 109.53 L773.37 109.99 L774.11 110.44 L774.9 110.85 L775.72 111.24 L776.6 111.6 L777.55 111.92 L778.58 112.22 L779.66 112.5 L780.78 112.75 L781.9 112.97 L783.01 113.17 L784.08 113.35 L785.1 113.5 L786.06 113.62 L786.99 113.71 L787.9 113.78 L788.78 113.82 L789.66 113.84 L790.53 113.84 L791.41 113.83 L792.3 113.8 L793.2 113.76 L794.1 113.7 L795 113.62 L795.9 113.53 L796.8 113.42 L797.7 113.3 L798.6 113.16 L799.5 113 L800.4 112.82 L801.3 112.62 L802.2 112.4 L803.1 112.16 L804 111.92 L804.9 111.67 L805.8 111.43 L806.7 111.2 L806.7 135.7 L805.8 135.93 L804.9 136.16 L804 136.4 L803.1 136.64 L802.2 136.87 L801.3 137.09 L800.4 137.3 L799.5 137.5 L798.59 137.68 L797.67 137.86 L796.75 138.03 L795.82 138.19 L794.91 138.33 L794.02 138.47 L793.14 138.59 L792.3 138.7 L791.49 138.8 L790.72 138.89 L789.97 138.97 L789.23 139.04 L788.5 139.09 L787.78 139.12 L787.05 139.12 L786.3 139.1 L785.54 139.05 L784.78 138.97 L784.02 138.88 L783.25 138.76 L782.48 138.62 L781.72 138.46 L780.96 138.29 L780.2 138.1 L779.45 137.9 L778.69 137.69 L777.94 137.47 L777.19 137.23 L776.45 136.97 L775.7 136.68 L774.95 136.36 L774.2 136 L773.45 135.62 L772.7 135.21 L771.95 134.79 L771.2 134.33 L770.45 133.84 L769.7 133.31 L768.95 132.73 L768.2 132.1 L767.45 131.43 L766.7 130.72 L765.95 129.97 L765.21 129.18 L764.46 128.34 L763.71 127.45 L762.95 126.51 L762.2 125.5 L761.43 124.41 L760.64 123.22 L759.83 121.96 L759.03 120.65 L758.25 119.33 L757.49 118.01 L756.77 116.73 L756.1 115.5 L755.48 114.32 L754.91 113.17 L754.37 112.03 L753.86 110.91 L753.38 109.8 L752.91 108.7 L752.45 107.6 L752 106.5 L751.58 105.43 L751.19 104.4 L750.84 103.4 L750.49 102.39 L750.14 101.36 L749.77 100.29 L749.36 99.14 L748.9 97.9 L748.37 96.51 L747.77 94.96 L747.13 93.32 L746.47 91.65 L745.81 90 L745.19 88.44 L744.61 87.02 L744.1 85.8 L743.68 84.83 L743.32 84.06 L743 83.44 L742.72 82.9 L742.44 82.39 L742.16 81.84 L741.85 81.2 L741.5 80.4 L741.11 79.45 L740.7 78.41 L740.28 77.3 L739.84 76.14 L739.39 74.96 L738.93 73.78 L738.47 72.62 L738 71.5 L737.53 70.43 L737.07 69.38 L736.6 68.35 L736.12 67.32 L735.63 66.28 L735.12 65.22 L734.58 64.13 L734 63 L733.38 61.79 L732.7 60.49 L731.99 59.15 L731.26 57.79 L730.53 56.46 L729.82 55.2 L729.14 54.03 L728.5 53 L727.92 52.13 L727.38 51.38 L726.87 50.73 L726.37 50.14 L725.88 49.59 L725.38 49.04 L724.86 48.45 L724.3 47.8 L723.71 47.09 L723.11 46.34 L722.49 45.57 L721.86 44.8 L721.21 44.03 L720.55 43.29 L719.88 42.57 L719.2 41.9 L718.49 41.26 L717.74 40.64 L716.98 40.03 L716.2 39.46 L715.43 38.91 L714.68 38.4 L713.97 37.92 L713.3 37.5 L712.68 37.12 L712.08 36.79 L711.51 36.5 L710.97 36.24 L710.45 36.01 L709.95 35.82 L709.46 35.65 L709 35.5 L708.58 35.38 L708.21 35.29 L707.87 35.24 L707.55 35.21 L707.22 35.2 L706.87 35.22 L706.47 35.25 L706 35.3 L705.47 35.37 L704.89 35.46 L704.28 35.57 L703.63 35.7 L702.96 35.85 L702.28 36.02 L701.59 36.2 L700.9 36.4 L700.19 36.62 L699.46 36.88 L698.71 37.15 L697.94 37.44 L697.18 37.73 L696.43 38.03 L695.7 38.32 L695 38.6 L694.36 38.85 L693.8 39.06 L693.27 39.27 L692.74 39.48 L692.19 39.7 L691.57 39.97 L690.85 40.3 L690 40.7 L689.02 41.18 L687.94 41.73 L686.77 42.33 L685.54 42.98 L684.25 43.65 L682.92 44.33 L681.56 45.02 L680.2 45.7 L678.81 46.38 L677.36 47.09 L675.87 47.81 L674.35 48.54 L672.81 49.28 L671.27 50 L669.72 50.71 L668.2 51.4 L666.71 52.06 L665.25 52.68 L663.81 53.29 L662.35 53.9 L660.86 54.51 L659.32 55.14 L657.71 55.8 L656 56.5 L654.19 57.26 L652.29 58.08 L650.32 58.93 L648.29 59.8 L646.23 60.66 L644.15 61.5 L642.07 62.28 L640 63 L637.91 63.66 L635.78 64.28 L633.62 64.87 L631.45 65.43 L629.29 65.95 L627.17 66.44 L625.1 66.89 L623.1 67.3 L621.25 67.66 L619.55 67.95 L617.94 68.2 L616.35 68.42 L614.7 68.62 L612.92 68.83 L610.95 69.05 L608.7 69.3 L606.15 69.58 L603.36 69.88 L600.37 70.19 L597.26 70.51 L594.06 70.82 L590.85 71.13 L587.68 71.42 L584.6 71.7 L581.59 71.96 L578.58 72.21 L575.56 72.46 L572.55 72.69 L569.54 72.92 L566.52 73.15 L563.51 73.38 L560.5 73.6 L557.65 73.82 L555.04 74.02 L552.52 74.22 L549.96 74.41 L547.2 74.61 L544.12 74.82 L540.57 75.05 L536.4 75.3 L531.51 75.59 L525.99 75.92 L519.98 76.27 L513.66 76.62 L507.16 76.97 L500.65 77.3 L494.27 77.58 L488.2 77.8 L482.36 77.96 L476.58 78.07 L470.85 78.13 L465.15 78.17 L459.47 78.2 L453.79 78.22 L448.11 78.25 L442.4 78.3 Z" fill="#ffb3b3" stroke="none"/>
<path d="M442.4 63.6 L448.27 63.54 L454.36 63.48 L460.53 63.43 L466.66 63.37 L472.61 63.31 L478.28 63.25 L483.51 63.18 L488.2 63.1 L492.25 63.02 L495.75 62.93 L498.83 62.84 L501.61 62.74 L504.22 62.64 L506.78 62.54 L509.44 62.42 L512.3 62.3 L515.31 62.17 L518.32 62.04 L521.34 61.91 L524.35 61.77 L527.36 61.62 L530.38 61.46 L533.39 61.29 L536.4 61.1 L539.41 60.9 L542.42 60.7 L545.44 60.48 L548.45 60.26 L551.46 60.02 L554.48 59.76 L557.49 59.49 L560.5 59.2 L563.6 58.88 L566.81 58.53 L570.07 58.16 L573.31 57.78 L576.45 57.39 L579.43 57.01 L582.17 56.65 L584.6 56.3 L586.68 55.98 L588.45 55.69 L589.98 55.42 L591.35 55.14 L592.62 54.87 L593.88 54.57 L595.18 54.25 L596.6 53.9 L598.09 53.52 L599.56 53.11 L601.03 52.69 L602.5 52.25 L603.99 51.79 L605.51 51.31 L607.08 50.82 L608.7 50.3 L610.39 49.76 L612.14 49.18 L613.93 48.57 L615.75 47.96 L617.59 47.33 L619.44 46.71 L621.28 46.09 L623.1 45.5 L624.96 44.91 L626.91 44.31 L628.88 43.71 L630.84 43.11 L632.74 42.54 L634.54 41.98 L636.17 41.47 L637.6 41 L638.76 40.59 L639.66 40.23 L640.39 39.91 L641.01 39.62 L641.62 39.34 L642.28 39.05 L643.08 38.74 L644.1 38.4 L645.36 38.02 L646.8 37.61 L648.36 37.19 L649.99 36.76 L651.63 36.33 L653.21 35.92 L654.69 35.54 L656 35.2 L657.15 34.9 L658.19 34.62 L659.14 34.37 L660.03 34.14 L660.88 33.92 L661.71 33.71 L662.54 33.5 L663.4 33.3 L664.27 33.1 L665.14 32.91 L666 32.72 L666.84 32.54 L667.67 32.37 L668.47 32.21 L669.25 32.05 L670 31.9 L670.71 31.75 L671.38 31.61 L672.02 31.48 L672.64 31.35 L673.25 31.23 L673.85 31.11 L674.47 31 L675.1 30.9 L675.73 30.8 L676.33 30.71 L676.93 30.62 L677.53 30.54 L678.16 30.46 L678.81 30.4 L679.52 30.34 L680.3 30.3 L681.14 30.26 L682.04 30.23 L682.98 30.21 L683.96 30.19 L684.97 30.19 L686 30.21 L687.05 30.24 L688.1 30.3 L689.2 30.38 L690.38 30.48 L691.59 30.61 L692.82 30.74 L694.02 30.9 L695.18 31.06 L696.25 31.23 L697.2 31.4 L698.03 31.58 L698.76 31.77 L699.42 31.96 L700.02 32.17 L700.59 32.38 L701.14 32.61 L701.7 32.85 L702.3 33.1 L702.91 33.35 L703.51 33.6 L704.11 33.86 L704.7 34.13 L705.29 34.42 L705.89 34.74 L706.49 35.1 L707.1 35.5" fill="none" stroke="#000" stroke-width="1.85" stroke-dasharray="12.2 3.8 2.4 3.8"/>
<path d="M707.1 35.5 L707.1 35.5 L707.73 35.96 L708.39 36.47 L709.05 37.03 L709.72 37.61 L710.38 38.2 L711.02 38.79 L711.63 39.36 L712.2 39.9 L712.73 40.41 L713.24 40.91 L713.72 41.4 L714.18 41.88 L714.62 42.36 L715.05 42.84 L715.48 43.32 L715.9 43.8 L716.32 44.29 L716.72 44.77 L717.11 45.25 L717.49 45.74 L717.86 46.22 L718.24 46.71 L718.62 47.2 L719 47.7 L719.37 48.16 L719.71 48.56 L720.05 48.94 L720.39 49.34 L720.75 49.78 L721.14 50.32 L721.59 50.98 L722.1 51.8 L722.71 52.85 L723.41 54.12 L724.17 55.54 L724.97 57.03 L725.76 58.53 L726.52 59.95 L727.21 61.24 L727.8 62.3 L728.29 63.14 L728.72 63.82 L729.09 64.39 L729.42 64.87 L729.73 65.3 L730.02 65.73 L730.3 66.18 L730.6 66.7 L730.89 67.26 L731.17 67.82 L731.43 68.38 L731.68 68.95 L731.93 69.52 L732.18 70.1 L732.43 70.69 L732.7 71.3 L732.97 71.91 L733.23 72.51 L733.49 73.11 L733.75 73.73 L734.03 74.37 L734.32 75.04 L734.64 75.75 L735 76.5 L735.41 77.34 L735.88 78.27 L736.38 79.26 L736.9 80.27 L737.41 81.27 L737.9 82.21 L738.33 83.07 L738.7 83.8 L738.99 84.38 L739.22 84.85 L739.4 85.23 L739.55 85.55 L739.69 85.86 L739.83 86.18 L740 86.55 L740.2 87 L740.41 87.49 L740.61 87.95 L740.8 88.43 L741.01 88.94 L741.24 89.51 L741.53 90.18 L741.88 90.96 L742.3 91.9" fill="none" stroke="#000" stroke-width="1.85" stroke-dasharray="12.2 3.8 2.4 3.8"/>
<path d="M742.3 91.9 L742.3 91.9 L742.84 93.06 L743.5 94.47 L744.24 96.02 L745.02 97.66 L745.79 99.28 L746.53 100.82 L747.17 102.18 L747.7 103.3 L748.09 104.15 L748.39 104.8 L748.61 105.31 L748.79 105.72 L748.94 106.07 L749.09 106.42 L749.27 106.82 L749.5 107.3 L749.76 107.83 L750.02 108.35 L750.28 108.87 L750.55 109.4 L750.84 109.97 L751.16 110.58 L751.51 111.25 L751.9 112 L752.34 112.86 L752.82 113.81 L753.34 114.84 L753.88 115.91 L754.44 116.99 L755 118.06 L755.56 119.07 L756.1 120 L756.65 120.88 L757.23 121.74 L757.82 122.58 L758.4 123.39 L758.97 124.15 L759.5 124.87 L759.98 125.52 L760.4 126.1 L760.74 126.59 L761.03 126.99 L761.26 127.32 L761.46 127.61 L761.63 127.86 L761.81 128.12 L761.99 128.39 L762.2 128.7 L762.38 129 L762.5 129.26 L762.58 129.5 L762.69 129.76 L762.84 130.05 L763.09 130.42 L763.46 130.9 L764 131.5 L764.76 132.3 L765.73 133.28 L766.85 134.4 L768.05 135.57 L769.27 136.74 L770.44 137.84 L771.51 138.82 L772.4 139.6 L773.12 140.19 L773.73 140.64 L774.26 140.98 L774.72 141.24 L775.17 141.46 L775.61 141.66 L776.07 141.86 L776.6 142.1 L777.15 142.36 L777.67 142.61 L778.19 142.85 L778.73 143.08 L779.3 143.3 L779.92 143.51 L780.61 143.71 L781.4 143.9" fill="none" stroke="#000" stroke-width="1.85" stroke-dasharray="12.2 3.8 2.4 3.8"/>
<path d="M781.4 143.9 L781.4 143.9 L782.3 144.09 L783.32 144.27 L784.41 144.45 L785.56 144.61 L786.72 144.76 L787.87 144.9 L788.97 145.01 L790 145.1 L790.99 145.16 L791.98 145.19 L792.95 145.21 L793.9 145.2 L794.8 145.18 L795.65 145.16 L796.42 145.13 L797.1 145.1 L797.67 145.07 L798.12 145.03 L798.5 144.99 L798.82 144.94 L799.11 144.88 L799.4 144.82 L799.72 144.76 L800.1 144.7 L800.47 144.64 L800.79 144.59 L801.09 144.55 L801.41 144.49 L801.8 144.43 L802.28 144.35 L802.9 144.24 L803.7 144.1 L804.71 143.92 L805.89 143.72 L807.22 143.48 L808.65 143.23 L810.13 142.97 L811.63 142.71 L813.1 142.45 L814.5 142.2" fill="none" stroke="#000" stroke-width="1.85" stroke-dasharray="12.2 3.8 2.4 3.8"/>
<path d="M448.9 83.3 L453.75 83.3 L458.52 83.32 L463.25 83.33 L467.99 83.34 L472.81 83.35 L477.75 83.35 L482.86 83.33 L488.2 83.3 L493.8 83.25 L499.62 83.19 L505.62 83.12 L511.74 83.03 L517.93 82.94 L524.14 82.83 L530.31 82.72 L536.4 82.6 L542.59 82.47 L549.01 82.32 L555.53 82.16 L562.01 81.99 L568.29 81.82 L574.24 81.65 L579.73 81.47 L584.6 81.3 L588.73 81.13 L592.21 80.95 L595.19 80.76 L597.86 80.57 L600.37 80.39 L602.9 80.22 L605.62 80.05 L608.7 79.9 L612.07 79.77 L615.55 79.68 L619.11 79.59 L622.74 79.51 L626.43 79.43 L630.14 79.32 L633.87 79.18 L637.6 79 L641.39 78.78 L645.28 78.52 L649.24 78.23 L653.2 77.92 L657.13 77.6 L660.97 77.27 L664.67 76.93 L668.2 76.6 L671.52 76.26 L674.68 75.91 L677.71 75.55 L680.66 75.18 L683.55 74.81 L686.43 74.44 L689.33 74.07 L692.3 73.7 L695.43 73.32 L698.74 72.92 L702.11 72.51 L705.44 72.11 L708.64 71.72 L711.61 71.36 L714.22 71.05 L716.4 70.8 L718.06 70.61 L719.28 70.48 L720.16 70.39 L720.79 70.34 L721.29 70.3 L721.76 70.28 L722.29 70.24 L723 70.2 L723.83 70.14 L724.66 70.09 L725.5 70.04 L726.33 70 L727.16 69.96 L727.99 69.93 L728.8 69.91 L729.6 69.9 L730.39 69.89 L731.16 69.88 L731.93 69.88 L732.69 69.89 L733.44 69.91 L734.19 69.95 L734.95 70.01 L735.7 70.1 L736.46 70.21 L737.21 70.35 L737.97 70.5 L738.72 70.67 L739.47 70.86 L740.22 71.08 L740.96 71.33 L741.7 71.6 L742.44 71.91 L743.2 72.24 L743.95 72.61 L744.7 73 L745.44 73.41 L746.15 73.83 L746.84 74.26 L747.5 74.7 L748.12 75.14 L748.7 75.6 L749.26 76.07 L749.8 76.56 L750.33 77.05 L750.85 77.56 L751.37 78.07 L751.9 78.6 L752.44 79.14 L752.98 79.7 L753.51 80.28 L754.04 80.86 L754.57 81.45 L755.09 82.04 L755.6 82.62 L756.1 83.2 L756.59 83.76 L757.06 84.31 L757.52 84.86 L757.98 85.4 L758.43 85.95 L758.88 86.51 L759.34 87.1 L759.8 87.7 L760.27 88.34 L760.75 89 L761.22 89.69 L761.7 90.38 L762.18 91.08 L762.65 91.77 L763.13 92.45 L763.6 93.1 L764.07 93.72 L764.53 94.33 L764.99 94.92 L765.44 95.5 L765.9 96.08 L766.36 96.67 L766.83 97.28 L767.3 97.9 L767.78 98.56 L768.25 99.24 L768.73 99.94 L769.22 100.65 L769.71 101.35 L770.2 102.03 L770.7 102.69 L771.2 103.3 L771.69 103.87 L772.17 104.42 L772.65 104.94 L773.13 105.44 L773.64 105.92 L774.17 106.39 L774.76 106.85 L775.4 107.3 L776.11 107.75 L776.9 108.21 L777.73 108.65 L778.59 109.08 L779.46 109.49 L780.34 109.87 L781.19 110.21 L782 110.5 L782.79 110.74 L783.57 110.95 L784.34 111.11 L785.11 111.24 L785.86 111.35 L786.59 111.44 L787.31 111.52 L788 111.6 L788.66 111.67 L789.28 111.71 L789.87 111.74 L790.45 111.76 L791.03 111.76 L791.62 111.75 L792.24 111.73 L792.9 111.7 L793.59 111.66 L794.31 111.61 L795.04 111.54 L795.79 111.46 L796.56 111.38 L797.33 111.29 L798.11 111.19 L798.9 111.1 L799.7 111.01 L800.52 110.91 L801.35 110.81 L802.19 110.71 L803.04 110.59 L803.87 110.47 L804.69 110.34 L805.5 110.2 L806.31 110.04 L807.14 109.85 L807.96 109.65 L808.78 109.44 L809.57 109.23 L810.31 109.03 L810.99 108.85 L811.6 108.7 L812.12 108.57 L812.55 108.47 L812.92 108.38 L813.25 108.3 L813.55 108.23 L813.85 108.16 L814.16 108.08 L814.5 108" fill="none" stroke="#04a604" stroke-width="2" stroke-dasharray="2.2 4.03" stroke-dashoffset="6.23"/>
<path d="M682 30.9 L683.36 30.15 L684.71 29.4 L686.07 28.65 L687.42 27.9 L688.78 27.15 L690.14 26.4 L691.51 25.65 L692.9 24.9 L694.3 24.13 L695.71 23.32 L697.13 22.5 L698.56 21.68 L700 20.89 L701.43 20.15 L702.87 19.48 L704.3 18.9" fill="none" stroke="#ff0000" stroke-width="1.85" stroke-dasharray="12.2 30"/>
<path d="M704.3 18.9 L704.3 18.9 L705.78 18.4 L707.34 17.95 L708.93 17.56 L710.5 17.22 L712.02 16.94 L713.44 16.71 L714.71 16.53 L715.8 16.4 L716.66 16.31 L717.3 16.26 L717.8 16.26 L718.2 16.31 L718.56 16.42 L718.95 16.6 L719.41 16.86 L720 17.2 L720.71 17.62 L721.48 18.12 L722.29 18.69 L723.13 19.33 L724 20.04 L724.9 20.83 L725.8 21.68 L726.7 22.6 L727 22.93" fill="none" stroke="#ff0000" stroke-width="1.85" stroke-dasharray="12.2 30"/>
<path d="M727 22.93 L727.63 23.61 L728.61 24.72 L729.62 25.9 L730.64 27.16 L731.65 28.46 L732.63 29.79 L733.55 31.15 L734.4 32.5 L735.17 33.88 L735.89 35.32 L736.56 36.79 L737.2 38.29 L737.81 39.79 L738.41 41.29 L739 42.76 L739.6 44.2" fill="none" stroke="#ff0000" stroke-width="1.85" stroke-dasharray="12.2 30"/>
<path d="M739.6 44.2 L739.6 44.2 L740.19 45.59 L740.77 46.96 L741.33 48.3 L741.88 49.63 L742.42 50.97 L742.97 52.32 L743.53 53.69 L744.1 55.1 L744.69 56.55 L745.28 58.03 L745.88 59.54 L746.48 61.06 L747.09 62.59 L747.69 64.11 L748.3 65.62 L748.9 67.1" fill="none" stroke="#ff0000" stroke-width="1.85" stroke-dasharray="12.2 30"/>
<path d="M748.9 67.1 L748.9 67.1 L749.5 68.57 L750.08 70.02 L750.67 71.48 L751.26 72.92 L751.85 74.35 L752.45 75.78 L753.07 77.19 L753.7 78.6 L754.34 80 L754.99 81.38 L755.64 82.76 L756.3 84.13 L756.98 85.49 L757.69 86.84 L758.43 88.18 L759.2 89.5" fill="none" stroke="#ff0000" stroke-width="1.85" stroke-dasharray="12.2 30"/>
<path d="M759.2 89.5 L759.2 89.5 L760.01 90.83 L760.84 92.17 L761.7 93.51 L762.58 94.83 L763.49 96.13 L764.43 97.38 L765.4 98.57 L766.4 99.7 L767.42 100.76 L768.45 101.77 L769.51 102.73 L770.59 103.64 L771.72 104.51 L772.89 105.34 L774.11 106.14 L775.4 106.9" fill="none" stroke="#ff0000" stroke-width="1.85" stroke-dasharray="12.2 30"/>
<path d="M775.4 106.9 L775.4 106.9 L776.76 107.64 L778.2 108.36 L779.69 109.05 L781.22 109.69 L782.79 110.29 L784.37 110.83 L785.94 111.3 L787.5 111.7 L789.09 112.01 L790.76 112.24 L792.45 112.4 L794.14 112.51 L795.79 112.57 L797.36 112.59 L798.81 112.6 L800.1 112.6" fill="none" stroke="#ff0000" stroke-width="1.85" stroke-dasharray="12.2 30"/>
<path d="M800.1 112.6 L800.1 112.6 L801.21 112.57 L802.17 112.5 L803.01 112.39 L803.78 112.26 L804.49 112.12 L805.19 111.97 L805.92 111.82 L806.7 111.7" fill="none" stroke="#ff0000" stroke-width="1.85" stroke-dasharray="12.2 30"/>
<path d="M442.4 65.2 L447.15 65.17 L451.98 65.14 L456.83 65.11 L461.67 65.08 L466.46 65.05 L471.13 65.01 L475.66 64.96 L480 64.9 L484.18 64.83 L488.27 64.74 L492.25 64.65 L496.1 64.55 L499.82 64.44 L503.38 64.33 L506.78 64.22 L510 64.1 L513.01 63.98 L515.82 63.85 L518.45 63.71 L520.94 63.57 L523.31 63.43 L525.59 63.29 L527.81 63.14 L530 63 L532.11 62.86 L534.1 62.71 L535.99 62.57 L537.81 62.42 L539.59 62.27 L541.37 62.12 L543.16 61.96 L545 61.8 L546.88 61.63 L548.75 61.46 L550.62 61.29 L552.5 61.11 L554.38 60.93 L556.25 60.75 L558.12 60.58 L560 60.4 L561.88 60.23 L563.75 60.06 L565.62 59.89 L567.5 59.72 L569.38 59.55 L571.25 59.37 L573.12 59.19 L575 59 L576.88 58.8 L578.75 58.6 L580.62 58.38 L582.5 58.17 L584.38 57.95 L586.25 57.73 L588.12 57.51 L590 57.3 L591.88 57.09 L593.75 56.88 L595.62 56.67 L597.5 56.46 L599.38 56.25 L601.25 56.04 L603.12 55.82 L605 55.6 L606.91 55.37 L608.87 55.14 L610.84 54.91 L612.81 54.67 L614.74 54.43 L616.6 54.19 L618.36 53.94 L620 53.7 L621.5 53.46 L622.88 53.21 L624.16 52.97 L625.38 52.73 L626.54 52.48 L627.69 52.22 L628.83 51.97 L630 51.7 L631.18 51.43 L632.34 51.15 L633.49 50.87 L634.62 50.58 L635.74 50.29 L636.84 50 L637.93 49.7 L639 49.4 L640.05 49.1 L641.09 48.8 L642.12 48.49 L643.12 48.18 L644.12 47.87 L645.09 47.55 L646.05 47.23 L647 46.9 L647.92 46.57 L648.8 46.23 L649.65 45.89 L650.5 45.54 L651.35 45.19 L652.2 44.84 L653.08 44.47 L654 44.1 L654.95 43.72 L655.93 43.34 L656.93 42.95 L657.94 42.56 L658.96 42.15 L659.98 41.74 L660.99 41.33 L662 40.9 L663.01 40.45 L664.05 39.99 L665.09 39.51 L666.12 39.02 L667.15 38.54 L668.14 38.07 L669.1 37.62 L670 37.2 L670.85 36.82 L671.64 36.47 L672.4 36.14 L673.12 35.82 L673.84 35.51 L674.55 35.19 L675.26 34.85 L676 34.5 L676.72 34.13 L677.4 33.77 L678.06 33.41 L678.73 33.03 L679.44 32.64 L680.2 32.22 L681.04 31.78 L682 31.3 L683.1 30.76 L684.33 30.16 L685.66 29.52 L687.04 28.87 L688.43 28.22 L689.8 27.59 L691.1 27.01 L692.3 26.5 L693.41 26.05 L694.47 25.64 L695.49 25.25 L696.47 24.91 L697.42 24.59 L698.34 24.3 L699.23 24.04 L700.1 23.8 L700.96 23.6 L701.8 23.43 L702.62 23.3 L703.41 23.19 L704.16 23.1 L704.86 23.03 L705.51 22.96 L706.1 22.9 L706.61 22.85 L707.04 22.8 L707.41 22.78 L707.74 22.76 L708.04 22.76 L708.34 22.76 L708.65 22.78 L709 22.8 L709.37 22.83 L709.74 22.87 L710.1 22.91 L710.48 22.97 L710.85 23.03 L711.23 23.11 L711.61 23.2 L712 23.3 L712.39 23.41 L712.78 23.52 L713.18 23.65 L713.58 23.79 L713.98 23.94 L714.4 24.11 L714.84 24.29 L715.3 24.5 L715.78 24.72 L716.27 24.93 L716.77 25.16 L717.29 25.41 L717.83 25.69 L718.37 26.01 L718.93 26.38 L719.5 26.8 L720.09 27.29 L720.72 27.84 L721.36 28.44 L722.01 29.08 L722.66 29.75 L723.3 30.43 L723.92 31.12 L724.5 31.8 L725.05 32.49 L725.59 33.21 L726.11 33.95 L726.62 34.69 L727.11 35.44 L727.59 36.18 L728.05 36.9 L728.5 37.6 L728.93 38.26 L729.33 38.88 L729.72 39.48 L730.09 40.08 L730.46 40.69 L730.83 41.31 L731.21 41.98 L731.6 42.7 L732 43.46 L732.41 44.23 L732.83 45.03 L733.24 45.86 L733.66 46.73 L734.08 47.64 L734.49 48.59 L734.9 49.6 L735.3 50.68 L735.7 51.83 L736.09 53.04 L736.48 54.28 L736.88 55.55 L737.27 56.82 L737.68 58.07 L738.1 59.3 L738.54 60.53 L739 61.79 L739.47 63.06 L739.95 64.32 L740.42 65.56 L740.88 66.75 L741.3 67.87 L741.7 68.9 L742.05 69.81 L742.36 70.62 L742.64 71.34 L742.9 72.02 L743.16 72.7 L743.44 73.4 L743.75 74.15 L744.1 75 L744.49 75.93 L744.92 76.91 L745.36 77.92 L745.83 78.98 L746.3 80.05 L746.77 81.15 L747.24 82.27 L747.7 83.4 L748.15 84.56 L748.6 85.76 L749.05 87 L749.5 88.25 L749.95 89.5 L750.4 90.74 L750.85 91.94 L751.3 93.1 L751.75 94.22 L752.2 95.33 L752.65 96.41 L753.09 97.47 L753.54 98.52 L753.99 99.54 L754.45 100.53 L754.9 101.5 L755.36 102.45 L755.82 103.38 L756.28 104.29 L756.75 105.17 L757.22 106.02 L757.68 106.85 L758.14 107.64 L758.6 108.4 L759.04 109.1 L759.45 109.75 L759.85 110.36 L760.26 110.94 L760.68 111.51 L761.13 112.08 L761.64 112.67 L762.2 113.3 L762.84 113.97 L763.53 114.66 L764.27 115.37 L765.05 116.09 L765.84 116.8 L766.64 117.5 L767.43 118.17 L768.2 118.8 L768.95 119.41 L769.7 120 L770.45 120.58 L771.2 121.14 L771.95 121.68 L772.7 122.19 L773.45 122.66 L774.2 123.1 L774.95 123.5 L775.7 123.88 L776.45 124.22 L777.19 124.53 L777.94 124.82 L778.69 125.07 L779.45 125.3 L780.2 125.5 L780.96 125.67 L781.72 125.8 L782.48 125.9 L783.25 125.97 L784.02 126.03 L784.78 126.06 L785.54 126.09 L786.3 126.1 L787.05 126.1 L787.78 126.09 L788.5 126.05 L789.23 126.01 L789.97 125.95 L790.72 125.87 L791.49 125.79 L792.3 125.7 L793.14 125.6 L794.02 125.49 L794.91 125.37 L795.82 125.24 L796.75 125.1 L797.67 124.95 L798.59 124.78 L799.5 124.6 L800.4 124.4 L801.3 124.18 L802.2 123.95 L803.1 123.7 L804 123.45 L804.9 123.19 L805.8 122.94 L806.7 122.7" fill="none" stroke="#ff0000" stroke-width="2.05"/>
</g>
<path d="M442.55 5.9 v5.7 M442.55 148.25 v-5.7 M454.95 5.9 v2.9 M454.95 148.25 v-2.9 M467.35 5.9 v2.9 M467.35 148.25 v-2.9 M479.75 5.9 v2.9 M479.75 148.25 v-2.9 M492.15 5.9 v2.9 M492.15 148.25 v-2.9 M504.55 5.9 v5.7 M504.55 148.25 v-5.7 M516.95 5.9 v2.9 M516.95 148.25 v-2.9 M529.35 5.9 v2.9 M529.35 148.25 v-2.9 M541.75 5.9 v2.9 M541.75 148.25 v-2.9 M554.15 5.9 v2.9 M554.15 148.25 v-2.9 M566.55 5.9 v5.7 M566.55 148.25 v-5.7 M578.95 5.9 v2.9 M578.95 148.25 v-2.9 M591.35 5.9 v2.9 M591.35 148.25 v-2.9 M603.75 5.9 v2.9 M603.75 148.25 v-2.9 M616.15 5.9 v2.9 M616.15 148.25 v-2.9 M628.55 5.9 v5.7 M628.55 148.25 v-5.7 M640.95 5.9 v2.9 M640.95 148.25 v-2.9 M653.35 5.9 v2.9 M653.35 148.25 v-2.9 M665.75 5.9 v2.9 M665.75 148.25 v-2.9 M678.15 5.9 v2.9 M678.15 148.25 v-2.9 M690.55 5.9 v5.7 M690.55 148.25 v-5.7 M702.95 5.9 v2.9 M702.95 148.25 v-2.9 M715.35 5.9 v2.9 M715.35 148.25 v-2.9 M727.75 5.9 v2.9 M727.75 148.25 v-2.9 M740.15 5.9 v2.9 M740.15 148.25 v-2.9 M752.55 5.9 v5.7 M752.55 148.25 v-5.7 M764.95 5.9 v2.9 M764.95 148.25 v-2.9 M777.35 5.9 v2.9 M777.35 148.25 v-2.9 M789.75 5.9 v2.9 M789.75 148.25 v-2.9 M802.15 5.9 v2.9 M802.15 148.25 v-2.9 M814.55 5.9 v5.7 M814.55 148.25 v-5.7 M441.55 148.22 h2.9 M814.5 148.22 h-2.9 M441.55 144.04 h2.9 M814.5 144.04 h-2.9 M441.55 139.85 h2.9 M814.5 139.85 h-2.9 M441.55 135.66 h2.9 M814.5 135.66 h-2.9 M441.55 131.47 h5.7 M814.5 131.47 h-5.7 M441.55 127.29 h2.9 M814.5 127.29 h-2.9 M441.55 123.1 h2.9 M814.5 123.1 h-2.9 M441.55 118.91 h2.9 M814.5 118.91 h-2.9 M441.55 114.72 h2.9 M814.5 114.72 h-2.9 M441.55 110.54 h2.9 M814.5 110.54 h-2.9 M441.55 106.35 h2.9 M814.5 106.35 h-2.9 M441.55 102.16 h2.9 M814.5 102.16 h-2.9 M441.55 97.97 h2.9 M814.5 97.97 h-2.9 M441.55 93.79 h2.9 M814.5 93.79 h-2.9 M441.55 89.6 h5.7 M814.5 89.6 h-5.7 M441.55 85.41 h2.9 M814.5 85.41 h-2.9 M441.55 81.22 h2.9 M814.5 81.22 h-2.9 M441.55 77.04 h2.9 M814.5 77.04 h-2.9 M441.55 72.85 h2.9 M814.5 72.85 h-2.9 M441.55 68.66 h2.9 M814.5 68.66 h-2.9 M441.55 64.47 h2.9 M814.5 64.47 h-2.9 M441.55 60.29 h2.9 M814.5 60.29 h-2.9 M441.55 56.1 h2.9 M814.5 56.1 h-2.9 M441.55 51.91 h2.9 M814.5 51.91 h-2.9 M441.55 47.72 h5.7 M814.5 47.72 h-5.7 M441.55 43.54 h2.9 M814.5 43.54 h-2.9 M441.55 39.35 h2.9 M814.5 39.35 h-2.9 M441.55 35.16 h2.9 M814.5 35.16 h-2.9 M441.55 30.97 h2.9 M814.5 30.97 h-2.9 M441.55 26.79 h2.9 M814.5 26.79 h-2.9 M441.55 22.6 h2.9 M814.5 22.6 h-2.9 M441.55 18.41 h2.9 M814.5 18.41 h-2.9 M441.55 14.22 h2.9 M814.5 14.22 h-2.9 M441.55 10.04 h2.9 M814.5 10.04 h-2.9" stroke="#1c1c1c" stroke-width="1.0" fill="none"/>
<path d="M441.55 5.9 H814.5 V148.25 H441.55 Z" fill="none" stroke="#1c1c1c" stroke-width="1.05"/>
</g>
<g>
<clipPath id="cp3"><rect x="31.55" y="157.35" width="372.95" height="142.05"/></clipPath>
<g clip-path="url(#cp3)">
<path d="M32.4 213.5 L33.58 213.08 L34.74 212.66 L35.89 212.25 L37.04 211.83 L38.22 211.41 L39.42 210.99 L40.68 210.55 L42 210.1 L43.31 209.65 L44.57 209.21 L45.83 208.77 L47.14 208.32 L48.57 207.85 L50.17 207.34 L52 206.8 L54.1 206.2 L56.54 205.53 L59.28 204.79 L62.26 204.01 L65.4 203.19 L68.64 202.37 L71.89 201.57 L75.11 200.81 L78.2 200.1 L81.21 199.45 L84.23 198.83 L87.24 198.23 L90.25 197.66 L93.26 197.1 L96.28 196.56 L99.29 196.03 L102.3 195.5 L105.31 194.99 L108.33 194.49 L111.34 194.01 L114.35 193.54 L117.36 193.08 L120.37 192.62 L123.39 192.16 L126.4 191.7 L129.41 191.23 L132.43 190.77 L135.44 190.31 L138.45 189.85 L141.46 189.39 L144.48 188.93 L147.49 188.47 L150.5 188 L153.55 187.52 L156.64 187.04 L159.75 186.55 L162.85 186.06 L165.91 185.58 L168.91 185.1 L171.82 184.64 L174.6 184.2 L177.31 183.79 L179.99 183.4 L182.62 183.03 L185.16 182.67 L187.58 182.3 L189.87 181.93 L191.98 181.53 L193.9 181.1 L195.56 180.64 L196.98 180.16 L198.21 179.67 L199.31 179.16 L200.33 178.63 L201.33 178.1 L202.37 177.55 L203.5 177 L204.7 176.43 L205.9 175.82 L207.1 175.2 L208.29 174.58 L209.49 173.95 L210.69 173.34 L211.9 172.75 L213.1 172.2 L214.3 171.68 L215.48 171.18 L216.66 170.7 L217.84 170.23 L219.04 169.78 L220.26 169.34 L221.51 168.92 L222.8 168.5 L224.13 168.09 L225.5 167.69 L226.89 167.29 L228.31 166.91 L229.74 166.55 L231.19 166.21 L232.64 165.89 L234.1 165.6 L235.57 165.33 L237.05 165.08 L238.54 164.86 L240.05 164.65 L241.56 164.47 L243.08 164.32 L244.59 164.19 L246.1 164.1 L247.61 164.05 L249.12 164.03 L250.64 164.05 L252.16 164.09 L253.68 164.15 L255.19 164.23 L256.7 164.31 L258.2 164.4 L259.69 164.49 L261.16 164.59 L262.62 164.7 L264.09 164.83 L265.55 164.96 L267.02 165.12 L268.5 165.3 L270 165.5 L271.52 165.73 L273.05 166 L274.6 166.3 L276.16 166.61 L277.71 166.92 L279.26 167.23 L280.79 167.53 L282.3 167.8 L283.79 168.05 L285.25 168.28 L286.7 168.51 L288.14 168.72 L289.59 168.94 L291.04 169.15 L292.51 169.37 L294 169.6 L295.52 169.83 L297.07 170.05 L298.63 170.27 L300.21 170.49 L301.78 170.72 L303.34 170.96 L304.88 171.22 L306.4 171.5 L307.88 171.8 L309.34 172.1 L310.77 172.41 L312.19 172.74 L313.62 173.09 L315.06 173.47 L316.51 173.87 L318 174.3 L319.52 174.77 L321.07 175.26 L322.64 175.79 L324.23 176.34 L325.81 176.91 L327.39 177.49 L328.96 178.09 L330.5 178.7 L332.02 179.32 L333.53 179.95 L335.03 180.59 L336.53 181.26 L338.01 181.94 L339.5 182.64 L341 183.36 L342.5 184.1 L344.01 184.88 L345.52 185.69 L347.03 186.53 L348.55 187.38 L350.07 188.25 L351.58 189.11 L353.09 189.96 L354.6 190.8 L356.1 191.63 L357.6 192.48 L359.1 193.32 L360.6 194.16 L362.1 194.99 L363.6 195.79 L365.1 196.57 L366.6 197.3 L368.07 197.98 L369.48 198.61 L370.87 199.21 L372.28 199.78 L373.73 200.35 L375.26 200.94 L376.9 201.55 L378.7 202.2 L380.67 202.9 L382.79 203.62 L385.02 204.37 L387.33 205.13 L389.69 205.9 L392.06 206.67 L394.41 207.44 L396.7 208.2 L396.7 258.9 L395.59 258.6 L394.56 258.31 L393.56 258.03 L392.55 257.75 L391.47 257.45 L390.27 257.14 L388.9 256.79 L387.3 256.4 L385.45 255.96 L383.37 255.49 L381.12 254.98 L378.75 254.45 L376.31 253.91 L373.86 253.36 L371.44 252.82 L369.1 252.3 L366.82 251.79 L364.55 251.3 L362.27 250.8 L360 250.31 L357.72 249.8 L355.45 249.29 L353.17 248.76 L350.9 248.2 L348.62 247.6 L346.35 246.97 L344.07 246.3 L341.8 245.63 L339.52 244.97 L337.25 244.33 L334.97 243.74 L332.7 243.2 L330.42 242.73 L328.15 242.31 L325.87 241.92 L323.59 241.57 L321.32 241.23 L319.04 240.9 L316.77 240.56 L314.5 240.2 L312.21 239.84 L309.87 239.48 L307.53 239.14 L305.19 238.79 L302.89 238.43 L300.64 238.07 L298.47 237.7 L296.4 237.3 L294.43 236.89 L292.55 236.46 L290.73 236.01 L288.98 235.56 L287.27 235.1 L285.59 234.64 L283.94 234.17 L282.3 233.7 L280.69 233.23 L279.13 232.77 L277.61 232.3 L276.12 231.83 L274.64 231.34 L273.17 230.85 L271.69 230.33 L270.2 229.8 L268.7 229.23 L267.2 228.63 L265.7 228 L264.2 227.37 L262.7 226.74 L261.2 226.12 L259.7 225.54 L258.2 225 L256.69 224.5 L255.18 224.01 L253.67 223.54 L252.15 223.1 L250.63 222.68 L249.12 222.29 L247.61 221.93 L246.1 221.6 L244.59 221.3 L243.08 221.03 L241.56 220.78 L240.05 220.56 L238.54 220.37 L237.05 220.22 L235.57 220.09 L234.1 220 L232.64 219.95 L231.19 219.93 L229.74 219.96 L228.31 220.01 L226.89 220.08 L225.5 220.18 L224.13 220.28 L222.8 220.4 L221.51 220.53 L220.26 220.68 L219.04 220.84 L217.84 221.03 L216.66 221.22 L215.48 221.44 L214.3 221.66 L213.1 221.9 L211.9 222.15 L210.69 222.41 L209.49 222.69 L208.29 222.98 L207.1 223.28 L205.9 223.6 L204.7 223.94 L203.5 224.3 L202.37 224.68 L201.33 225.09 L200.33 225.51 L199.31 225.96 L198.21 226.41 L196.98 226.87 L195.56 227.34 L193.9 227.8 L191.98 228.27 L189.87 228.75 L187.58 229.23 L185.16 229.72 L182.62 230.22 L179.99 230.72 L177.31 231.21 L174.6 231.7 L171.82 232.19 L168.91 232.68 L165.91 233.17 L162.85 233.66 L159.75 234.14 L156.64 234.63 L153.55 235.12 L150.5 235.6 L147.49 236.08 L144.48 236.55 L141.46 237.03 L138.45 237.5 L135.44 237.97 L132.43 238.45 L129.41 238.92 L126.4 239.4 L123.39 239.88 L120.37 240.35 L117.36 240.83 L114.35 241.31 L111.34 241.79 L108.33 242.28 L105.31 242.78 L102.3 243.3 L99.29 243.82 L96.28 244.35 L93.26 244.88 L90.25 245.42 L87.24 245.98 L84.23 246.56 L81.21 247.16 L78.2 247.8 L75.11 248.49 L71.89 249.25 L68.64 250.05 L65.4 250.86 L62.26 251.66 L59.28 252.43 L56.54 253.15 L54.1 253.8 L52 254.37 L50.17 254.88 L48.57 255.34 L47.14 255.78 L45.83 256.18 L44.57 256.58 L43.31 256.99 L42 257.4 L40.68 257.82 L39.42 258.23 L38.22 258.63 L37.04 259.03 L35.89 259.42 L34.74 259.81 L33.58 260.2 L32.4 260.6 Z" fill="#ffb3b3" stroke="none"/>
<path d="M32.4 295.6 L33.58 295.05 L34.74 294.51 L35.89 293.97 L37.04 293.43 L38.22 292.89 L39.42 292.34 L40.68 291.77 L42 291.2 L43.39 290.61 L44.85 289.99 L46.36 289.36 L47.9 288.72 L49.46 288.09 L51.02 287.47 L52.58 286.87 L54.1 286.3 L55.6 285.75 L57.1 285.23 L58.6 284.72 L60.1 284.23 L61.6 283.74 L63.1 283.26 L64.6 282.78 L66.1 282.3 L67.53 281.84 L68.84 281.42 L70.1 281.02 L71.39 280.61 L72.78 280.19 L74.33 279.72 L74.6 279.64" fill="none" stroke="#000" stroke-width="1.85" stroke-dasharray="12.2 3.8 2.4 3.8"/>
<path d="M74.6 279.64 L76.11 279.2 L78.2 278.6 L80.64 277.91 L83.38 277.13 L86.36 276.3 L89.5 275.43 L92.74 274.54 L95.99 273.65 L99.21 272.8 L102.3 272 L105.31 271.24 L108.33 270.51 L111.34 269.79 L114.35 269.09 L117.36 268.39 L120.37 267.7 L123.39 267 L126.4 266.3 L129.41 265.59 L132.43 264.86 L135.44 264.14 L138.45 263.42 L141.46 262.71 L144.48 262.01 L147.49 261.34 L150.5 260.7 L153.55 260.08 L156.64 259.47 L159.75 258.88 L162.85 258.31 L165.91 257.76 L168.91 257.24 L171.82 256.75 L174.6 256.3 L177.33 255.89 L180.05 255.5 L182.73 255.15 L185.31 254.83 L187.77 254.54 L190.05 254.27 L192.1 254.02 L193.9 253.8 L195.39 253.62 L196.58 253.48 L197.55 253.38 L198.34 253.29 L199.03 253.22 L199.66 253.14 L200.3 253.04 L201 252.9 L201.71 252.74 L202.35 252.59 L202.94 252.42 L203.5 252.24 L204.06 252.05 L204.65 251.83 L205.29 251.58 L206 251.3 L206.77 250.99 L207.57 250.65 L208.39 250.28 L209.26 249.89 L210.15 249.47 L211.09 249.04 L212.07 248.58 L213.1 248.1 L214.21 247.59 L215.4 247.03 L216.66 246.44 L217.94 245.84 L219.23 245.23 L220.49 244.63 L221.69 244.05 L222.8 243.5 L223.84 242.98 L224.85 242.45 L225.82 241.94 L226.75 241.44 L227.64 240.97 L228.48 240.51 L229.27 240.09 L230 239.7 L230.61 239.38 L231.06 239.12 L231.42 238.91 L231.75 238.72 L232.12 238.52 L232.59 238.28 L233.23 237.98 L234.1 237.6 L235.22 237.11 L236.54 236.53 L238.02 235.88 L239.6 235.21 L241.25 234.52 L242.91 233.86 L244.54 233.24 L246.1 232.7 L247.61 232.22 L249.12 231.78 L250.63 231.37 L252.15 230.98 L253.67 230.62 L255.18 230.29 L256.69 229.99 L258.2 229.7 L259.7 229.45 L261.2 229.23 L262.7 229.04 L264.2 228.87 L265.7 228.73 L267.2 228.58 L268.7 228.44 L270.2 228.3 L271.63 228.16 L272.94 228.02 L274.2 227.9 L275.49 227.78 L276.88 227.66 L278.43 227.55 L280.21 227.43 L282.3 227.3 L284.85 227.16 L287.86 227.01 L291.16 226.86 L294.6 226.7 L298.01 226.55 L301.22 226.41 L304.07 226.3 L306.4 226.2 L308.16 226.14 L309.49 226.1 L310.5 226.09 L311.3 226.08 L311.99 226.08 L312.68 226.07 L313.48 226.05 L314.5 226 L315.72 225.93 L317.02 225.85 L318.38 225.75 L319.77 225.65 L321.16 225.54 L322.52 225.43 L323.81 225.31 L325 225.2 L326.09 225.09 L327.09 224.97 L328.03 224.86 L328.94 224.74 L329.83 224.61 L330.74 224.48 L331.69 224.35 L332.7 224.2 L333.76 224.04 L334.84 223.88 L335.94 223.71 L337.07 223.53 L338.22 223.35 L339.39 223.17 L340.58 222.98 L341.8 222.8 L343.09 222.62 L344.49 222.43 L345.93 222.24 L347.38 222.05 L348.8 221.86 L350.14 221.67 L351.35 221.48 L352.4 221.3 L353.25 221.12 L353.94 220.95 L354.5 220.79 L354.99 220.63 L355.44 220.46 L355.89 220.28 L356.4 220.1 L357 219.9" fill="none" stroke="#000" stroke-width="1.85" stroke-dasharray="12.2 3.8 2.4 3.8"/>
<path d="M357 219.9 L357 219.9 L357.68 219.69 L358.4 219.47 L359.15 219.24 L359.92 219 L360.7 218.76 L361.47 218.51 L362.25 218.26 L363 218 L363.75 217.74 L364.51 217.47 L365.27 217.19 L366.03 216.91 L366.78 216.62 L367.51 216.34 L368.22 216.07 L368.9 215.8 L369.55 215.54 L370.16 215.3 L370.75 215.05 L371.33 214.81 L371.9 214.57 L372.46 214.32 L373.03 214.07 L373.6 213.8 L374.18 213.52 L374.75 213.24 L375.32 212.96 L375.89 212.67 L376.46 212.37 L377.04 212.06 L377.62 211.74 L378.2 211.4 L378.79 211.05 L379.38 210.7 L379.97 210.33 L380.57 209.95 L381.17 209.56 L381.77 209.15 L382.38 208.74 L383 208.3 L383.63 207.84 L384.29 207.35 L384.95 206.84 L385.62 206.33 L386.28 205.8 L386.92 205.29 L387.53 204.78 L388.1 204.3 L388.63 203.84 L389.13 203.4 L389.59 202.96 L390.04 202.54 L390.48 202.11 L390.91 201.68 L391.35 201.25 L391.8 200.8 L392.25 200.35 L392.68 199.89 L393.11 199.44 L393.54 198.98 L393.98 198.51 L394.43 198.03 L394.9 197.52 L395.4 197 L395.93 196.45 L396.48 195.87 L397.06 195.27 L397.64 194.66 L398.24 194.04 L398.83 193.42 L399.42 192.81 L400 192.2 L400.57 191.6 L401.13 191 L401.69 190.4 L402.26 189.8 L402.82 189.2 L403.38 188.6 L403.94 188 L404.5 187.4" fill="none" stroke="#000" stroke-width="1.85" stroke-dasharray="12.2 3.8 2.4 3.8"/>
<path d="M38.5 223.3 L40.39 223.02 L42.2 222.73 L43.98 222.46 L45.77 222.18 L47.63 221.89 L49.6 221.6 L51.74 221.31 L54.1 221 L56.71 220.68 L59.53 220.35 L62.51 220 L65.62 219.66 L68.79 219.31 L71.98 218.96 L75.13 218.63 L78.2 218.3 L81.21 217.98 L84.23 217.67 L87.24 217.36 L90.25 217.06 L93.26 216.76 L96.28 216.46 L99.29 216.18 L102.3 215.9 L105.31 215.64 L108.33 215.4 L111.34 215.17 L114.35 214.95 L117.36 214.72 L120.37 214.48 L123.39 214.2 L126.4 213.9 L129.41 213.56 L132.43 213.19 L135.44 212.81 L138.45 212.4 L141.46 211.98 L144.48 211.56 L147.49 211.13 L150.5 210.7 L153.6 210.26 L156.81 209.8 L160.07 209.33 L163.31 208.86 L166.45 208.39 L169.43 207.93 L172.17 207.5 L174.6 207.1 L176.72 206.73 L178.58 206.38 L180.23 206.04 L181.71 205.72 L183.04 205.42 L184.28 205.14 L185.45 204.86 L186.6 204.6 L187.67 204.36 L188.61 204.15 L189.44 203.96 L190.19 203.78 L190.9 203.6 L191.58 203.42 L192.27 203.22 L193 203 L193.75 202.76 L194.47 202.52 L195.18 202.26 L195.89 202 L196.59 201.72 L197.28 201.43 L197.99 201.13 L198.7 200.8 L199.43 200.44 L200.19 200.04 L200.96 199.62 L201.72 199.19 L202.47 198.76 L203.19 198.34 L203.87 197.95 L204.5 197.6 L205.06 197.29 L205.57 197.02 L206.03 196.76 L206.47 196.53 L206.9 196.3 L207.33 196.07 L207.8 195.84 L208.3 195.6 L208.84 195.35 L209.4 195.09 L209.98 194.83 L210.58 194.58 L211.18 194.32 L211.78 194.07 L212.39 193.83 L213 193.6 L213.61 193.38 L214.23 193.18 L214.85 192.98 L215.48 192.79 L216.11 192.6 L216.74 192.4 L217.37 192.21 L218 192 L218.62 191.78 L219.23 191.55 L219.84 191.32 L220.45 191.08 L221.07 190.85 L221.69 190.62 L222.34 190.4 L223 190.2 L223.69 190.01 L224.41 189.83 L225.14 189.65 L225.88 189.48 L226.63 189.32 L227.37 189.17 L228.09 189.03 L228.8 188.9 L229.47 188.78 L230.12 188.67 L230.74 188.57 L231.36 188.48 L232 188.4 L232.65 188.33 L233.35 188.26 L234.1 188.2 L234.88 188.14 L235.65 188.08 L236.45 188.02 L237.28 187.97 L238.16 187.94 L239.11 187.93 L240.15 187.95 L241.3 188 L242.55 188.07 L243.87 188.14 L245.27 188.23 L246.75 188.34 L248.3 188.5 L249.93 188.72 L251.63 189.02 L253.4 189.4 L255.31 189.9 L257.38 190.51 L259.56 191.21 L261.8 191.96 L264.04 192.74 L266.22 193.51 L268.29 194.24 L270.2 194.9 L271.86 195.47 L273.27 195.97 L274.55 196.43 L275.79 196.89 L277.09 197.37 L278.54 197.91 L280.25 198.54 L282.3 199.3 L284.74 200.19 L287.48 201.19 L290.46 202.28 L293.6 203.43 L296.84 204.61 L300.09 205.82 L303.31 207.02 L306.4 208.2 L309.41 209.37 L312.42 210.58 L315.44 211.8 L318.45 213.02 L321.46 214.25 L324.47 215.46 L327.49 216.65 L330.5 217.8 L333.51 218.92 L336.52 220.03 L339.54 221.11 L342.55 222.18 L345.56 223.23 L348.57 224.27 L351.59 225.29 L354.6 226.3 L357.63 227.3 L360.68 228.29 L363.74 229.26 L366.8 230.23 L369.84 231.16 L372.84 232.08 L375.8 232.96 L378.7 233.8 L381.65 234.63 L384.71 235.46 L387.79 236.28 L390.8 237.06 L393.66 237.79 L396.27 238.45 L398.55 239.02 L400.4 239.5 L401.75 239.85 L402.66 240.08 L403.23 240.22 L403.55 240.29 L403.74 240.33 L403.89 240.36 L404.11 240.41 L404.5 240.5" fill="none" stroke="#04a604" stroke-width="2" stroke-dasharray="2.2 4.03" stroke-dashoffset="6.12"/>
<path d="M249.2 194.5 L250.67 194.73 L252.13 194.95 L253.59 195.16 L255.05 195.38 L256.52 195.6 L257.99 195.84 L259.49 196.11 L261 196.4 L262.54 196.73 L264.11 197.1 L265.7 197.48 L267.29 197.89 L268.89 198.3 L270.48 198.71 L272.05 199.11 L273.6 199.5" fill="none" stroke="#ff0000" stroke-width="1.85" stroke-dasharray="12.2 30"/>
<path d="M273.6 199.5 L273.6 199.5 L275.12 199.86 L276.63 200.21 L278.12 200.55 L279.6 200.89 L281.08 201.23 L282.55 201.6 L284.02 201.98 L285.5 202.4 L286.98 202.86 L288.46 203.37 L289.93 203.9 L291.41 204.44 L292.88 204.99 L294.35 205.52 L295.83 206.03 L297.3 206.5" fill="none" stroke="#ff0000" stroke-width="1.85" stroke-dasharray="12.2 30"/>
<path d="M297.3 206.5 L297.3 206.5 L298.77 206.93 L300.23 207.32 L301.69 207.7 L303.14 208.06 L304.61 208.42 L306.09 208.77 L307.58 209.13 L309.1 209.5 L310.65 209.89 L312.23 210.3 L313.84 210.71 L315.45 211.12 L317.06 211.52 L318.67 211.91 L320.25 212.27 L321.8 212.6" fill="none" stroke="#ff0000" stroke-width="1.85" stroke-dasharray="12.2 30"/>
<path d="M321.8 212.6 L321.8 212.6 L323.32 212.89 L324.81 213.14 L326.29 213.36 L327.75 213.56 L329.21 213.77 L330.66 213.98 L332.13 214.22 L333.6 214.5 L335.08 214.81 L336.57 215.15 L338.06 215.51 L339.55 215.88 L341.04 216.25 L342.53 216.64 L344.02 217.02 L345.5 217.4" fill="none" stroke="#ff0000" stroke-width="1.85" stroke-dasharray="12.2 30"/>
<path d="M345.5 217.4 L345.5 217.4 L346.97 217.77 L348.44 218.15 L349.89 218.53 L351.35 218.91 L352.81 219.29 L354.29 219.69 L355.78 220.09 L357.3 220.5 L358.85 220.93 L360.43 221.39 L362.04 221.85 L363.65 222.32 L365.26 222.79 L366.87 223.25 L368.45 223.69 L370 224.1" fill="none" stroke="#ff0000" stroke-width="1.85" stroke-dasharray="12.2 30"/>
<path d="M370 224.1 L370 224.1 L371.51 224.48 L373 224.84 L374.46 225.18 L375.92 225.51 L377.37 225.83 L378.83 226.15 L380.3 226.47 L381.8 226.8 L383.39 227.14 L385.09 227.5 L386.84 227.87 L388.58 228.23 L390.25 228.58 L391.78 228.89 L393.12 229.17 L394.2 229.4" fill="none" stroke="#ff0000" stroke-width="1.85" stroke-dasharray="12.2 30"/>
<path d="M394.2 229.4 L394.2 229.4 L394.99 229.57 L395.52 229.69 L395.86 229.77 L396.07 229.82 L396.2 229.86 L396.31 229.9 L396.46 229.94 L396.7 230" fill="none" stroke="#ff0000" stroke-width="1.85" stroke-dasharray="12.2 30"/>
<path d="M32.4 237 L33.58 236.5 L34.74 235.99 L35.89 235.48 L37.04 234.97 L38.22 234.47 L39.42 233.97 L40.68 233.48 L42 233 L43.39 232.53 L44.85 232.06 L46.36 231.6 L47.9 231.14 L49.46 230.7 L51.02 230.26 L52.58 229.82 L54.1 229.4 L55.6 228.99 L57.1 228.58 L58.6 228.18 L60.1 227.79 L61.6 227.4 L63.1 227.03 L64.6 226.66 L66.1 226.3 L67.53 225.97 L68.84 225.67 L70.1 225.39 L71.39 225.11 L72.78 224.82 L74.33 224.5 L76.11 224.13 L78.2 223.7 L80.64 223.19 L83.38 222.61 L86.36 221.98 L89.5 221.32 L92.74 220.66 L95.99 220 L99.21 219.38 L102.3 218.8 L105.31 218.27 L108.33 217.78 L111.34 217.3 L114.35 216.84 L117.36 216.38 L120.37 215.93 L123.39 215.47 L126.4 215 L129.41 214.51 L132.43 214.02 L135.44 213.52 L138.45 213.02 L141.46 212.53 L144.48 212.04 L147.49 211.56 L150.5 211.1 L153.6 210.64 L156.82 210.17 L160.1 209.7 L163.34 209.25 L166.49 208.81 L169.47 208.4 L172.2 208.03 L174.6 207.7 L176.67 207.42 L178.46 207.18 L180.02 206.98 L181.4 206.8 L182.64 206.64 L183.79 206.5 L184.9 206.35 L186 206.2 L187.06 206.06 L188.02 205.93 L188.88 205.81 L189.68 205.71 L190.42 205.6 L191.13 205.48 L191.82 205.35 L192.5 205.2 L193.17 205.03 L193.79 204.84 L194.38 204.64 L194.94 204.42 L195.47 204.21 L195.99 204 L196.5 203.79 L197 203.6 L197.48 203.42 L197.93 203.25 L198.36 203.09 L198.78 202.93 L199.19 202.76 L199.61 202.59 L200.05 202.4 L200.5 202.2 L200.98 201.98 L201.46 201.74 L201.96 201.49 L202.47 201.24 L202.98 200.98 L203.49 200.71 L204 200.45 L204.5 200.2 L204.99 199.95 L205.46 199.7 L205.93 199.46 L206.41 199.21 L206.89 198.96 L207.39 198.71 L207.93 198.46 L208.5 198.2 L209.13 197.93 L209.8 197.64 L210.52 197.34 L211.25 197.04 L211.98 196.75 L212.7 196.48 L213.37 196.22 L214 196 L214.54 195.81 L215.01 195.65 L215.43 195.51 L215.84 195.39 L216.27 195.27 L216.75 195.16 L217.32 195.03 L218 194.9 L218.81 194.75 L219.72 194.6 L220.7 194.44 L221.74 194.27 L222.82 194.12 L223.9 193.97 L224.97 193.83 L226 193.7 L226.98 193.58 L227.93 193.46 L228.86 193.35 L229.8 193.25 L230.77 193.16 L231.8 193.09 L232.9 193.03 L234.1 193 L235.41 192.99 L236.82 192.99 L238.31 193.01 L239.85 193.04 L241.42 193.1 L243 193.18 L244.57 193.28 L246.1 193.4 L247.61 193.56 L249.12 193.74 L250.64 193.96 L252.16 194.19 L253.68 194.44 L255.19 194.7 L256.7 194.95 L258.2 195.2 L259.71 195.45 L261.26 195.7 L262.81 195.96 L264.34 196.22 L265.85 196.49 L267.31 196.76 L268.7 197.03 L270 197.3 L271.21 197.58 L272.34 197.86 L273.4 198.15 L274.41 198.44 L275.39 198.73 L276.33 199 L277.27 199.26 L278.2 199.5 L279.09 199.71 L279.89 199.89 L280.65 200.04 L281.4 200.19 L282.17 200.34 L283.01 200.51 L283.94 200.69 L285 200.9 L286.22 201.15 L287.57 201.43 L289.02 201.74 L290.53 202.05 L292.05 202.36 L293.57 202.67 L295.03 202.95 L296.4 203.2 L297.69 203.42 L298.95 203.61 L300.18 203.79 L301.38 203.96 L302.56 204.11 L303.72 204.27 L304.86 204.43 L306 204.6 L307.12 204.78 L308.23 204.95 L309.31 205.12 L310.38 205.3 L311.43 205.47 L312.47 205.65 L313.49 205.82 L314.5 206 L315.5 206.17 L316.48 206.35 L317.45 206.52 L318.41 206.69 L319.34 206.87 L320.25 207.04 L321.14 207.22 L322 207.4 L322.82 207.58 L323.61 207.76 L324.36 207.94 L325.09 208.12 L325.82 208.3 L326.54 208.49 L327.26 208.69 L328 208.9 L328.75 209.12 L329.5 209.34 L330.26 209.57 L331.01 209.8 L331.76 210.04 L332.51 210.29 L333.26 210.54 L334 210.8 L334.74 211.06 L335.47 211.33 L336.19 211.61 L336.92 211.89 L337.64 212.18 L338.36 212.47 L339.08 212.78 L339.8 213.1 L340.49 213.43 L341.15 213.76 L341.8 214.11 L342.45 214.46 L343.13 214.83 L343.85 215.2 L344.63 215.6 L345.5 216 L346.47 216.43 L347.52 216.87 L348.63 217.34 L349.79 217.81 L350.97 218.29 L352.17 218.77 L353.35 219.24 L354.5 219.7 L355.63 220.15 L356.77 220.59 L357.91 221.02 L359.04 221.46 L360.18 221.89 L361.32 222.32 L362.46 222.76 L363.6 223.2 L364.73 223.65 L365.83 224.09 L366.93 224.54 L368.04 224.99 L369.16 225.45 L370.3 225.9 L371.48 226.35 L372.7 226.8 L373.96 227.25 L375.25 227.7 L376.57 228.16 L377.92 228.61 L379.29 229.06 L380.7 229.51 L382.13 229.96 L383.6 230.4 L385.11 230.83 L386.67 231.26 L388.26 231.69 L389.88 232.11 L391.52 232.53 L393.16 232.95 L394.79 233.38 L396.4 233.8" fill="none" stroke="#ff0000" stroke-width="2.05"/>
</g>
<path d="M32.55 157.35 v5.7 M32.55 299.4 v-5.7 M44.95 157.35 v2.9 M44.95 299.4 v-2.9 M57.35 157.35 v2.9 M57.35 299.4 v-2.9 M69.75 157.35 v2.9 M69.75 299.4 v-2.9 M82.15 157.35 v2.9 M82.15 299.4 v-2.9 M94.55 157.35 v5.7 M94.55 299.4 v-5.7 M106.95 157.35 v2.9 M106.95 299.4 v-2.9 M119.35 157.35 v2.9 M119.35 299.4 v-2.9 M131.75 157.35 v2.9 M131.75 299.4 v-2.9 M144.15 157.35 v2.9 M144.15 299.4 v-2.9 M156.55 157.35 v5.7 M156.55 299.4 v-5.7 M168.95 157.35 v2.9 M168.95 299.4 v-2.9 M181.35 157.35 v2.9 M181.35 299.4 v-2.9 M193.75 157.35 v2.9 M193.75 299.4 v-2.9 M206.15 157.35 v2.9 M206.15 299.4 v-2.9 M218.55 157.35 v5.7 M218.55 299.4 v-5.7 M230.95 157.35 v2.9 M230.95 299.4 v-2.9 M243.35 157.35 v2.9 M243.35 299.4 v-2.9 M255.75 157.35 v2.9 M255.75 299.4 v-2.9 M268.15 157.35 v2.9 M268.15 299.4 v-2.9 M280.55 157.35 v5.7 M280.55 299.4 v-5.7 M292.95 157.35 v2.9 M292.95 299.4 v-2.9 M305.35 157.35 v2.9 M305.35 299.4 v-2.9 M317.75 157.35 v2.9 M317.75 299.4 v-2.9 M330.15 157.35 v2.9 M330.15 299.4 v-2.9 M342.55 157.35 v5.7 M342.55 299.4 v-5.7 M354.95 157.35 v2.9 M354.95 299.4 v-2.9 M367.35 157.35 v2.9 M367.35 299.4 v-2.9 M379.75 157.35 v2.9 M379.75 299.4 v-2.9 M392.15 157.35 v2.9 M392.15 299.4 v-2.9 M404.55 157.35 v5.7 M404.55 299.4 v-5.7 M31.55 293.04 h2.9 M404.5 293.04 h-2.9 M31.55 286.5 h5.7 M404.5 286.5 h-5.7 M31.55 279.97 h2.9 M404.5 279.97 h-2.9 M31.55 273.43 h2.9 M404.5 273.43 h-2.9 M31.55 266.9 h2.9 M404.5 266.9 h-2.9 M31.55 260.36 h5.7 M404.5 260.36 h-5.7 M31.55 253.83 h2.9 M404.5 253.83 h-2.9 M31.55 247.29 h2.9 M404.5 247.29 h-2.9 M31.55 240.76 h2.9 M404.5 240.76 h-2.9 M31.55 234.22 h5.7 M404.5 234.22 h-5.7 M31.55 227.69 h2.9 M404.5 227.69 h-2.9 M31.55 221.15 h2.9 M404.5 221.15 h-2.9 M31.55 214.62 h2.9 M404.5 214.62 h-2.9 M31.55 208.08 h5.7 M404.5 208.08 h-5.7 M31.55 201.55 h2.9 M404.5 201.55 h-2.9 M31.55 195.01 h2.9 M404.5 195.01 h-2.9 M31.55 188.48 h2.9 M404.5 188.48 h-2.9 M31.55 181.94 h5.7 M404.5 181.94 h-5.7 M31.55 175.41 h2.9 M404.5 175.41 h-2.9 M31.55 168.87 h2.9 M404.5 168.87 h-2.9 M31.55 162.34 h2.9 M404.5 162.34 h-2.9" stroke="#1c1c1c" stroke-width="1.0" fill="none"/>
<path d="M31.55 157.35 H404.5 V299.4 H31.55 Z" fill="none" stroke="#1c1c1c" stroke-width="1.05"/>
</g>
<g>
<clipPath id="cp4"><rect x="441.55" y="157.35" width="372.95" height="142.05"/></clipPath>
<g clip-path="url(#cp4)">
<path d="M442.4 197.7 L448.11 197.81 L453.79 197.94 L459.47 198.07 L465.15 198.2 L470.85 198.32 L476.58 198.41 L482.36 198.48 L488.2 198.5 L494.27 198.48 L500.65 198.43 L507.16 198.34 L513.66 198.24 L519.98 198.11 L525.99 197.98 L531.51 197.84 L536.4 197.7 L540.57 197.56 L544.12 197.41 L547.2 197.26 L549.96 197.09 L552.52 196.92 L555.04 196.73 L557.65 196.52 L560.5 196.3 L563.58 196.05 L566.75 195.78 L569.96 195.49 L573.16 195.19 L576.27 194.88 L579.26 194.58 L582.05 194.28 L584.6 194 L586.91 193.74 L589.06 193.48 L591.04 193.24 L592.87 192.99 L594.57 192.75 L596.15 192.51 L597.62 192.26 L599 192 L600.24 191.73 L601.29 191.46 L602.21 191.18 L603.02 190.9 L603.77 190.62 L604.49 190.34 L605.22 190.07 L606 189.8 L606.8 189.54 L607.56 189.27 L608.31 189.01 L609.04 188.75 L609.77 188.5 L610.5 188.25 L611.24 188.02 L612 187.8 L612.77 187.59 L613.56 187.39 L614.34 187.19 L615.14 187.01 L615.93 186.83 L616.72 186.67 L617.52 186.53 L618.3 186.4 L619.08 186.29 L619.85 186.19 L620.62 186.11 L621.39 186.04 L622.16 185.98 L622.93 185.94 L623.71 185.91 L624.5 185.9 L625.29 185.9 L626.08 185.92 L626.87 185.95 L627.67 185.99 L628.48 186.05 L629.3 186.12 L630.14 186.21 L631 186.3 L631.88 186.41 L632.78 186.54 L633.7 186.68 L634.62 186.83 L635.57 186.99 L636.53 187.16 L637.51 187.33 L638.5 187.5 L639.51 187.67 L640.55 187.84 L641.61 188.02 L642.69 188.21 L643.77 188.4 L644.85 188.59 L645.93 188.79 L647 189 L648.06 189.21 L649.12 189.44 L650.19 189.66 L651.25 189.89 L652.31 190.13 L653.38 190.38 L654.44 190.64 L655.5 190.9 L656.56 191.18 L657.62 191.47 L658.69 191.77 L659.75 192.08 L660.81 192.39 L661.88 192.7 L662.94 193.01 L664 193.3 L665.06 193.58 L666.12 193.86 L667.19 194.14 L668.25 194.41 L669.31 194.68 L670.38 194.95 L671.44 195.22 L672.5 195.5 L673.56 195.78 L674.62 196.05 L675.69 196.33 L676.75 196.61 L677.81 196.89 L678.88 197.18 L679.94 197.48 L681 197.8 L682.06 198.13 L683.12 198.48 L684.19 198.83 L685.25 199.2 L686.31 199.57 L687.38 199.95 L688.44 200.32 L689.5 200.7 L690.57 201.08 L691.65 201.47 L692.73 201.87 L693.81 202.27 L694.89 202.67 L695.95 203.06 L696.99 203.44 L698 203.8 L698.98 204.14 L699.92 204.46 L700.83 204.76 L701.74 205.06 L702.64 205.37 L703.56 205.68 L704.51 206.03 L705.5 206.4 L706.53 206.8 L707.6 207.21 L708.68 207.63 L709.79 208.07 L710.9 208.53 L712.01 209.02 L713.11 209.54 L714.2 210.1 L715.27 210.69 L716.34 211.32 L717.4 211.97 L718.46 212.66 L719.52 213.36 L720.58 214.09 L721.64 214.84 L722.7 215.6 L723.77 216.39 L724.84 217.22 L725.92 218.09 L726.99 218.96 L728.06 219.84 L729.12 220.72 L730.17 221.57 L731.2 222.4 L732.2 223.2 L733.16 223.98 L734.11 224.76 L735.05 225.52 L736 226.27 L736.96 227.02 L737.96 227.76 L739 228.5 L740.1 229.25 L741.24 230.01 L742.41 230.77 L743.61 231.52 L744.81 232.25 L746 232.95 L747.17 233.6 L748.3 234.2 L749.4 234.75 L750.48 235.26 L751.55 235.74 L752.6 236.17 L753.65 236.58 L754.69 236.95 L755.74 237.29 L756.8 237.6 L757.88 237.87 L758.98 238.09 L760.09 238.28 L761.2 238.44 L762.29 238.57 L763.34 238.69 L764.35 238.79 L765.3 238.9 L766.13 239.01 L766.84 239.11 L767.48 239.21 L768.09 239.29 L768.74 239.35 L769.47 239.38 L770.34 239.36 L771.4 239.3 L772.66 239.19 L774.1 239.02 L775.65 238.82 L777.3 238.59 L779 238.33 L780.7 238.06 L782.39 237.78 L784 237.5 L785.58 237.21 L787.19 236.89 L788.8 236.56 L790.4 236.21 L791.99 235.87 L793.54 235.53 L795.05 235.2 L796.5 234.9 L797.89 234.62 L799.21 234.36 L800.49 234.11 L801.74 233.86 L802.98 233.62 L804.2 233.39 L805.44 233.15 L806.7 232.9 L806.7 270.9 L805.83 271.28 L804.98 271.64 L804.14 271.99 L803.29 272.34 L802.43 272.71 L801.54 273.11 L800.6 273.53 L799.6 274 L798.54 274.51 L797.41 275.05 L796.24 275.62 L795.04 276.21 L793.83 276.83 L792.6 277.47 L791.39 278.13 L790.2 278.8 L789.02 279.49 L787.85 280.2 L786.67 280.94 L785.5 281.69 L784.32 282.46 L783.15 283.25 L781.97 284.07 L780.8 284.9 L779.61 285.79 L778.41 286.74 L777.2 287.73 L776 288.74 L774.81 289.72 L773.64 290.67 L772.5 291.53 L771.4 292.3 L770.34 292.97 L769.3 293.58 L768.29 294.13 L767.31 294.63 L766.34 295.08 L765.41 295.49 L764.49 295.86 L763.6 296.2 L762.74 296.51 L761.92 296.79 L761.12 297.03 L760.35 297.22 L759.59 297.38 L758.83 297.48 L758.07 297.52 L757.3 297.5 L756.52 297.43 L755.75 297.33 L754.97 297.18 L754.2 296.97 L753.43 296.7 L752.65 296.35 L751.88 295.92 L751.1 295.4 L750.32 294.78 L749.53 294.07 L748.74 293.27 L747.95 292.41 L747.16 291.47 L746.37 290.49 L745.58 289.46 L744.8 288.4 L744.02 287.29 L743.25 286.13 L742.47 284.91 L741.7 283.64 L740.93 282.33 L740.15 280.99 L739.38 279.61 L738.6 278.2 L737.8 276.71 L736.96 275.12 L736.1 273.47 L735.26 271.79 L734.43 270.14 L733.65 268.54 L732.94 267.05 L732.3 265.7 L731.77 264.5 L731.32 263.42 L730.94 262.43 L730.61 261.51 L730.29 260.63 L729.96 259.76 L729.61 258.9 L729.2 258 L728.74 257.08 L728.26 256.18 L727.76 255.28 L727.25 254.39 L726.73 253.51 L726.21 252.66 L725.7 251.82 L725.2 251 L724.73 250.26 L724.31 249.6 L723.9 249 L723.49 248.4 L723.04 247.75 L722.55 247.02 L721.97 246.15 L721.3 245.1 L720.48 243.8 L719.53 242.25 L718.48 240.54 L717.39 238.76 L716.3 236.98 L715.25 235.29 L714.31 233.77 L713.5 232.5 L712.85 231.49 L712.3 230.68 L711.84 230 L711.43 229.43 L711.05 228.91 L710.67 228.4 L710.26 227.84 L709.8 227.2 L709.29 226.48 L708.76 225.74 L708.23 224.99 L707.68 224.22 L707.13 223.47 L706.58 222.72 L706.04 221.99 L705.5 221.3 L704.98 220.64 L704.49 220 L704 219.38 L703.51 218.78 L703 218.19 L702.47 217.59 L701.91 217 L701.3 216.4 L700.64 215.78 L699.95 215.15 L699.22 214.51 L698.46 213.88 L697.69 213.26 L696.9 212.67 L696.1 212.11 L695.3 211.6 L694.5 211.13 L693.68 210.71 L692.86 210.32 L692.02 209.95 L691.17 209.6 L690.3 209.27 L689.41 208.93 L688.5 208.6 L687.56 208.27 L686.58 207.94 L685.59 207.63 L684.57 207.32 L683.55 207.02 L682.53 206.74 L681.51 206.46 L680.5 206.2 L679.5 205.95 L678.51 205.72 L677.52 205.51 L676.53 205.3 L675.54 205.1 L674.54 204.9 L673.52 204.7 L672.5 204.5 L671.46 204.3 L670.41 204.1 L669.35 203.9 L668.28 203.71 L667.21 203.51 L666.14 203.31 L665.07 203.11 L664 202.9 L662.94 202.68 L661.88 202.45 L660.81 202.22 L659.75 201.99 L658.69 201.75 L657.62 201.53 L656.56 201.31 L655.5 201.1 L654.44 200.9 L653.38 200.71 L652.31 200.53 L651.25 200.36 L650.19 200.19 L649.12 200.02 L648.06 199.86 L647 199.7 L645.93 199.55 L644.85 199.4 L643.77 199.25 L642.69 199.11 L641.61 198.98 L640.55 198.85 L639.51 198.72 L638.5 198.6 L637.51 198.49 L636.53 198.39 L635.57 198.3 L634.62 198.21 L633.7 198.12 L632.78 198.02 L631.88 197.92 L631 197.8 L630.14 197.66 L629.3 197.5 L628.48 197.32 L627.67 197.14 L626.87 196.97 L626.08 196.81 L625.29 196.69 L624.5 196.6 L623.71 196.55 L622.93 196.53 L622.16 196.54 L621.39 196.56 L620.62 196.6 L619.85 196.66 L619.08 196.73 L618.3 196.8 L617.52 196.88 L616.72 196.98 L615.93 197.09 L615.14 197.21 L614.34 197.35 L613.56 197.49 L612.77 197.64 L612 197.8 L611.24 197.97 L610.5 198.15 L609.77 198.35 L609.04 198.55 L608.31 198.76 L607.56 198.97 L606.8 199.19 L606 199.4 L605.22 199.61 L604.49 199.83 L603.77 200.04 L603.02 200.26 L602.21 200.49 L601.29 200.72 L600.24 200.95 L599 201.2 L597.62 201.46 L596.15 201.72 L594.57 201.99 L592.87 202.27 L591.04 202.55 L589.06 202.83 L586.91 203.12 L584.6 203.4 L582.05 203.69 L579.26 203.99 L576.27 204.29 L573.16 204.6 L569.96 204.9 L566.75 205.19 L563.58 205.45 L560.5 205.7 L557.65 205.92 L555.04 206.12 L552.52 206.31 L549.96 206.48 L547.2 206.64 L544.12 206.8 L540.57 206.95 L536.4 207.1 L531.51 207.26 L525.99 207.43 L519.98 207.59 L513.66 207.75 L507.16 207.89 L500.65 208 L494.27 208.07 L488.2 208.1 L482.36 208.07 L476.58 207.99 L470.85 207.87 L465.15 207.72 L459.47 207.56 L453.79 207.4 L448.11 207.24 L442.4 207.1 Z" fill="#ffb3b3" stroke="none"/>
<path d="M442.4 182.8 L445.1 182.89 L447.77 182.98 L450.43 183.07 L453.1 183.16 L455.79 183.25 L458.51 183.34 L461.27 183.42 L464.1 183.5 L467 183.58 L469.96 183.65 L472.96 183.72 L476 183.79 L479.06 183.86 L482.12 183.91 L485.17 183.96 L488.2 184 L491.21 184.03 L494.22 184.04 L497.24 184.05 L500.25 184.06 L503.26 184.05 L506.27 184.04 L509.29 184.02 L512.3 184 L515.31 183.98 L518.32 183.95 L521.34 183.92 L524.35 183.88 L527.36 183.83 L530.38 183.77 L533.39 183.7 L536.4 183.6 L539.41 183.49 L542.42 183.37 L545.44 183.24 L548.45 183.1 L551.46 182.94 L554.48 182.75 L557.49 182.54 L560.5 182.3 L563.6 182.02 L566.81 181.7 L570.07 181.36 L573.31 180.99 L576.45 180.61 L579.43 180.23 L582.17 179.86 L584.6 179.5 L586.72 179.16 L588.58 178.82 L590.23 178.49 L591.71 178.16 L593.04 177.83 L594.28 177.49 L595.45 177.15 L596.6 176.8 L597.67 176.45 L598.61 176.11 L599.44 175.76 L600.19 175.41 L600.9 175.05 L601.58 174.66 L602.27 174.25 L603 173.8 L603.76 173.3 L604.51 172.75 L605.25 172.16 L605.98 171.55 L606.7 170.94 L607.39 170.35 L608.06 169.8 L608.7 169.3 L609.31 168.84 L609.88 168.41 L610.43 168.01 L610.96 167.63 L611.47 167.26 L611.98 166.92 L612.49 166.6 L613 166.3 L613.51 166.02 L614 165.77 L614.48 165.54 L614.96 165.33 L615.44 165.13 L615.94 164.95 L616.45 164.77 L617 164.6 L617.56 164.44 L618.13 164.28 L618.71 164.14 L619.31 164.01 L619.93 163.89 L620.59 163.78 L621.27 163.69 L622 163.6 L622.76 163.52 L623.53 163.43 L624.33 163.35 L625.17 163.28 L626.05 163.24 L626.97 163.22 L627.95 163.24 L629 163.3 L630.13 163.41 L631.36 163.55 L632.65 163.73 L633.99 163.94 L635.34 164.17 L636.7 164.43 L638.02 164.71 L639.3 165 L640.53 165.31 L641.75 165.64 L642.95 165.99 L644.14 166.36 L645.32 166.75 L646.51 167.17 L647.7 167.62 L648.9 168.1 L650.11 168.61 L651.32 169.16 L652.53 169.74 L653.75 170.34 L654.97 170.97 L656.18 171.6 L657.39 172.25 L658.6 172.9 L659.82 173.57 L661.06 174.26 L662.3 174.98 L663.54 175.71 L664.76 176.43 L665.95 177.14 L667.1 177.84 L668.2 178.5 L669.26 179.14 L670.31 179.77 L671.34 180.39 L672.33 180.99 L673.27 181.57 L674.15 182.14 L674.96 182.68 L675.7 183.2 L676.3 183.66 L676.73 184.03 L677.07 184.36 L677.37 184.69 L677.68 185.04 L678.07 185.45 L678.59 185.96 L679.3 186.6" fill="none" stroke="#000" stroke-width="1.85" stroke-dasharray="12.2 3.8 2.4 3.8"/>
<path d="M679.3 186.6 L679.3 186.6 L680.23 187.4 L681.35 188.32 L682.59 189.34 L683.91 190.43 L685.26 191.54 L686.57 192.64 L687.8 193.71 L688.9 194.7 L689.87 195.63 L690.78 196.53 L691.63 197.41 L692.44 198.28 L693.22 199.13 L693.98 199.98 L694.73 200.84 L695.5 201.7 L696.27 202.57 L697.02 203.44 L697.76 204.31 L698.49 205.17 L699.2 206.04 L699.91 206.9 L700.61 207.75 L701.3 208.6 L701.99 209.45 L702.69 210.31 L703.39 211.18 L704.07 212.03 L704.73 212.87 L705.36 213.68 L705.95 214.46 L706.5 215.2 L706.97 215.85 L707.37 216.42 L707.71 216.93 L708.03 217.42 L708.35 217.94 L708.71 218.52 L709.11 219.19 L709.6 220 L710.18 220.98 L710.84 222.1 L711.56 223.32 L712.3 224.61 L713.05 225.9 L713.78 227.16 L714.47 228.34 L715.1 229.4 L715.67 230.34 L716.21 231.21 L716.71 232.03 L717.2 232.8 L717.67 233.54 L718.12 234.26 L718.56 234.98 L719 235.7 L719.39 236.37 L719.72 236.95 L720.01 237.48 L720.31 238.02 L720.63 238.6 L721.01 239.28 L721.49 240.1 L722.1 241.1" fill="none" stroke="#000" stroke-width="1.85" stroke-dasharray="12.2 3.8 2.4 3.8"/>
<path d="M722.1 241.1 L722.1 241.1 L722.88 242.36 L723.83 243.87 L724.88 245.55 L725.99 247.31 L727.11 249.06 L728.16 250.74 L729.11 252.24 L729.9 253.5 L730.52 254.5 L731.03 255.33 L731.44 256.02 L731.79 256.61 L732.11 257.14 L732.41 257.66 L732.74 258.2 L733.1 258.8 L733.49 259.45 L733.86 260.09 L734.23 260.74 L734.61 261.37 L734.98 262.01 L735.37 262.64 L735.77 263.27 L736.2 263.9 L736.65 264.52 L737.14 265.14 L737.63 265.76 L738.14 266.38 L738.65 266.99 L739.16 267.59 L739.64 268.2 L740.1 268.8 L740.53 269.4 L740.95 270.01 L741.36 270.61 L741.75 271.21 L742.14 271.8 L742.52 272.39 L742.91 272.95 L743.3 273.5 L743.65 274.01 L743.95 274.47 L744.23 274.92 L744.51 275.35 L744.84 275.8 L745.24 276.27 L745.75 276.8 L746.4 277.4 L747.24 278.1 L748.25 278.89 L749.39 279.75 L750.6 280.63 L751.82 281.5 L753 282.33 L754.07 283.07 L755 283.7 L755.77 284.21 L756.43 284.64 L757.01 285 L757.54 285.31 L758.05 285.58 L758.56 285.83 L759.1 286.06 L759.7 286.3 L760.3 286.54 L760.85 286.75 L761.4 286.95 L761.96 287.13 L762.59 287.29 L763.31 287.42 L764.17 287.52 L765.2 287.6" fill="none" stroke="#000" stroke-width="1.85" stroke-dasharray="12.2 3.8 2.4 3.8"/>
<path d="M765.2 287.6 L765.2 287.6 L766.48 287.64 L768.02 287.64 L769.72 287.61 L771.5 287.56 L773.28 287.5 L774.96 287.43 L776.46 287.36 L777.7 287.3 L778.66 287.25 L779.42 287.19 L780.03 287.13 L780.54 287.06 L780.98 287 L781.41 286.93 L781.87 286.86 L782.4 286.8 L782.93 286.73 L783.39 286.65 L783.82 286.57 L784.26 286.49 L784.77 286.41 L785.38 286.35 L786.14 286.31 L787.1 286.3 L788.34 286.31 L789.85 286.35 L791.54 286.4 L793.32 286.47 L795.1 286.55 L796.81 286.63 L798.33 286.72 L799.6 286.8 L800.61 286.88 L801.44 286.97 L802.13 287.06 L802.72 287.16 L803.24 287.26 L803.74 287.36 L804.25 287.48 L804.8 287.6 L805.36 287.72 L805.89 287.85 L806.39 287.98 L806.88 288.11 L807.37 288.26 L807.88 288.42 L808.42 288.6 L809 288.8 L809.63 289.03 L810.28 289.28 L810.97 289.55 L811.67 289.84 L812.38 290.13 L813.09 290.43 L813.8 290.72 L814.5 291" fill="none" stroke="#000" stroke-width="1.85" stroke-dasharray="12.2 3.8 2.4 3.8"/>
<path d="M448.7 198.6 L453.74 198.6 L458.94 198.61 L464.19 198.63 L469.41 198.64 L474.52 198.64 L479.41 198.64 L484 198.63 L488.2 198.6 L491.95 198.56 L495.31 198.5 L498.37 198.44 L501.21 198.36 L503.94 198.28 L506.64 198.19 L509.39 198.1 L512.3 198 L515.31 197.9 L518.32 197.8 L521.34 197.69 L524.35 197.58 L527.36 197.46 L530.38 197.32 L533.39 197.17 L536.4 197 L539.41 196.81 L542.42 196.61 L545.44 196.39 L548.45 196.16 L551.46 195.92 L554.48 195.66 L557.49 195.39 L560.5 195.1 L563.6 194.79 L566.81 194.46 L570.07 194.1 L573.31 193.74 L576.45 193.37 L579.43 193 L582.17 192.64 L584.6 192.3 L586.72 191.97 L588.61 191.65 L590.28 191.33 L591.77 191.01 L593.12 190.7 L594.35 190.4 L595.5 190.1 L596.6 189.8 L597.6 189.51 L598.44 189.22 L599.16 188.94 L599.78 188.67 L600.35 188.4 L600.88 188.13 L601.42 187.86 L602 187.6 L602.59 187.34 L603.17 187.1 L603.72 186.85 L604.26 186.61 L604.78 186.37 L605.29 186.12 L605.8 185.87 L606.3 185.6 L606.79 185.31 L607.27 185.01 L607.74 184.7 L608.2 184.38 L608.65 184.07 L609.1 183.76 L609.55 183.47 L610 183.2 L610.45 182.95 L610.89 182.71 L611.33 182.48 L611.76 182.26 L612.2 182.05 L612.63 181.85 L613.06 181.67 L613.5 181.5 L613.93 181.35 L614.35 181.21 L614.77 181.08 L615.19 180.97 L615.61 180.87 L616.05 180.77 L616.51 180.68 L617 180.6 L617.48 180.51 L617.95 180.42 L618.42 180.33 L618.91 180.26 L619.45 180.2 L620.04 180.16 L620.72 180.16 L621.5 180.2 L622.41 180.28 L623.43 180.41 L624.54 180.57 L625.71 180.75 L626.91 180.95 L628.11 181.17 L629.28 181.38 L630.4 181.6 L631.5 181.82 L632.61 182.06 L633.72 182.3 L634.82 182.56 L635.9 182.82 L636.93 183.08 L637.9 183.34 L638.8 183.6 L639.6 183.86 L640.29 184.11 L640.92 184.37 L641.51 184.62 L642.09 184.89 L642.7 185.15 L643.36 185.42 L644.1 185.7 L644.9 185.98 L645.7 186.25 L646.53 186.53 L647.4 186.81 L648.32 187.1 L649.3 187.41 L650.35 187.74 L651.5 188.1 L652.75 188.5 L654.1 188.93 L655.54 189.39 L657.03 189.86 L658.56 190.34 L660.12 190.81 L661.67 191.27 L663.2 191.7 L664.73 192.11 L666.29 192.5 L667.86 192.89 L669.45 193.26 L671.04 193.63 L672.61 193.99 L674.17 194.35 L675.7 194.7 L677.2 195.05 L678.66 195.4 L680.11 195.75 L681.55 196.09 L682.99 196.42 L684.44 196.74 L685.9 197.03 L687.4 197.3 L688.92 197.54 L690.47 197.76 L692.03 197.97 L693.61 198.15 L695.18 198.32 L696.76 198.49 L698.34 198.64 L699.9 198.8 L701.45 198.95 L703 199.09 L704.55 199.21 L706.1 199.33 L707.65 199.45 L709.2 199.56 L710.75 199.68 L712.3 199.8 L713.86 199.92 L715.42 200.04 L716.98 200.16 L718.55 200.28 L720.12 200.4 L721.68 200.52 L723.24 200.66 L724.8 200.8 L726.36 200.94 L727.92 201.06 L729.48 201.19 L731.04 201.32 L732.6 201.47 L734.14 201.66 L735.68 201.9 L737.2 202.2 L738.72 202.54 L740.25 202.91 L741.77 203.3 L743.28 203.74 L744.77 204.23 L746.23 204.79 L747.64 205.4 L749 206.1 L750.31 206.89 L751.57 207.76 L752.79 208.71 L753.98 209.72 L755.14 210.77 L756.28 211.84 L757.4 212.92 L758.5 214 L759.61 215.12 L760.72 216.32 L761.82 217.56 L762.89 218.81 L763.92 220.03 L764.89 221.19 L765.79 222.26 L766.6 223.2 L767.3 224 L767.89 224.69 L768.4 225.29 L768.86 225.83 L769.29 226.33 L769.73 226.81 L770.19 227.29 L770.7 227.8 L771.25 228.33 L771.82 228.84 L772.39 229.34 L772.97 229.83 L773.56 230.31 L774.16 230.78 L774.77 231.25 L775.4 231.7 L776.04 232.15 L776.68 232.6 L777.33 233.05 L778 233.48 L778.68 233.9 L779.37 234.29 L780.08 234.66 L780.8 235 L781.54 235.3 L782.31 235.58 L783.1 235.84 L783.89 236.07 L784.7 236.28 L785.5 236.47 L786.31 236.64 L787.1 236.8 L787.89 236.94 L788.68 237.05 L789.47 237.15 L790.26 237.23 L791.04 237.29 L791.83 237.33 L792.62 237.37 L793.4 237.4 L794.18 237.41 L794.95 237.41 L795.73 237.39 L796.5 237.36 L797.27 237.32 L798.05 237.28 L798.82 237.24 L799.6 237.2 L800.38 237.16 L801.17 237.12 L801.96 237.08 L802.74 237.03 L803.53 236.98 L804.32 236.93 L805.11 236.87 L805.9 236.8 L806.71 236.72 L807.57 236.63 L808.44 236.54 L809.3 236.44 L810.13 236.34 L810.91 236.25 L811.6 236.17 L812.2 236.1 L812.68 236.05 L813.06 236.01 L813.36 235.99 L813.6 235.97 L813.81 235.95 L814.02 235.94 L814.24 235.92 L814.5 235.9" fill="none" stroke="#04a604" stroke-width="2" stroke-dasharray="2.2 4.03" stroke-dashoffset="6.23"/>
<path d="M661.7 197.2 L663.17 197.17 L664.64 197.13 L666.1 197.09 L667.56 197.05 L669.03 197.02 L670.51 196.99 L672 196.99 L673.5 197 L675.02 197.04 L676.56 197.11 L678.1 197.2 L679.66 197.29 L681.22 197.39 L682.78 197.48 L684.34 197.55 L685.9 197.6" fill="none" stroke="#ff0000" stroke-width="1.85" stroke-dasharray="12.2 30"/>
<path d="M685.9 197.6 L685.9 197.6 L687.46 197.62 L689.02 197.62 L690.58 197.6 L692.14 197.57 L693.71 197.55 L695.27 197.52 L696.84 197.5 L698.4 197.5 L699.96 197.5 L701.53 197.51 L703.09 197.51 L704.66 197.52 L706.22 197.54 L707.78 197.57 L709.34 197.63 L710.9 197.7" fill="none" stroke="#ff0000" stroke-width="1.85" stroke-dasharray="12.2 30"/>
<path d="M710.9 197.7 L710.9 197.7 L712.46 197.78 L714.02 197.86 L715.59 197.94 L717.15 198.04 L718.71 198.18 L720.25 198.36 L721.78 198.59 L723.3 198.9 L724.8 199.27 L726.29 199.7 L727.77 200.17 L729.24 200.69 L730.69 201.26 L732.14 201.87 L733.58 202.52 L735 203.2" fill="none" stroke="#ff0000" stroke-width="1.85" stroke-dasharray="12.2 30"/>
<path d="M735 203.2 L735 203.2 L736.41 203.94 L737.82 204.75 L739.21 205.61 L740.59 206.51 L741.96 207.42 L743.32 208.34 L744.66 209.23 L746 210.1 L747.31 210.95 L748.59 211.81 L749.85 212.66 L751.11 213.51 L752.37 214.35 L753.64 215.16 L754.95 215.95 L756.3 216.7" fill="none" stroke="#ff0000" stroke-width="1.85" stroke-dasharray="12.2 30"/>
<path d="M756.3 216.7 L756.3 216.7 L757.7 217.42 L759.14 218.13 L760.6 218.82 L762.09 219.48 L763.58 220.11 L765.07 220.71 L766.55 221.28 L768 221.8 L769.42 222.28 L770.83 222.71 L772.21 223.1 L773.6 223.46 L774.99 223.79 L776.4 224.1 L777.83 224.41 L779.3 224.7" fill="none" stroke="#ff0000" stroke-width="1.85" stroke-dasharray="12.2 30"/>
<path d="M779.3 224.7 L779.3 224.7 L780.81 224.99 L782.34 225.26 L783.9 225.51 L785.47 225.75 L787.06 225.97 L788.65 226.17 L790.23 226.34 L791.8 226.5 L793.43 226.63 L795.16 226.73 L796.93 226.8 L798.68 226.86 L800.35 226.91 L801.89 226.94 L803.22 226.97 L804.3 227" fill="none" stroke="#ff0000" stroke-width="1.85" stroke-dasharray="12.2 30"/>
<path d="M804.3 227 L804.3 227 L805.08 227.02 L805.61 227.04 L805.94 227.04 L806.13 227.03 L806.24 227.02 L806.34 227.01 L806.47 227 L806.7 227" fill="none" stroke="#ff0000" stroke-width="1.85" stroke-dasharray="12.2 30"/>
<path d="M442.4 202.5 L445.1 202.58 L447.77 202.66 L450.43 202.74 L453.1 202.82 L455.79 202.9 L458.51 202.98 L461.27 203.04 L464.1 203.1 L467 203.15 L469.96 203.19 L472.96 203.22 L476 203.25 L479.06 203.27 L482.12 203.29 L485.17 203.3 L488.2 203.3 L491.21 203.3 L494.22 203.29 L497.24 203.27 L500.25 203.25 L503.26 203.22 L506.27 203.19 L509.29 203.15 L512.3 203.1 L515.31 203.05 L518.32 203 L521.34 202.94 L524.35 202.87 L527.36 202.8 L530.38 202.72 L533.39 202.62 L536.4 202.5 L539.41 202.37 L542.42 202.22 L545.44 202.06 L548.45 201.89 L551.46 201.71 L554.48 201.52 L557.49 201.31 L560.5 201.1 L563.58 200.87 L566.75 200.62 L569.96 200.36 L573.16 200.09 L576.27 199.81 L579.26 199.53 L582.05 199.26 L584.6 199 L586.91 198.75 L589.06 198.49 L591.04 198.24 L592.87 197.99 L594.57 197.75 L596.15 197.5 L597.62 197.25 L599 197 L600.24 196.75 L601.29 196.5 L602.21 196.24 L603.02 195.99 L603.77 195.74 L604.49 195.49 L605.22 195.24 L606 195 L606.8 194.76 L607.56 194.51 L608.31 194.27 L609.04 194.03 L609.77 193.8 L610.5 193.58 L611.24 193.38 L612 193.2 L612.77 193.04 L613.56 192.9 L614.34 192.77 L615.14 192.66 L615.93 192.55 L616.72 192.46 L617.52 192.38 L618.3 192.3 L619.08 192.23 L619.85 192.17 L620.62 192.12 L621.39 192.07 L622.16 192.04 L622.93 192.02 L623.71 192 L624.5 192 L625.28 192 L626.05 192.01 L626.81 192.03 L627.58 192.06 L628.37 192.1 L629.19 192.15 L630.07 192.22 L631 192.3 L632.02 192.41 L633.12 192.54 L634.28 192.7 L635.47 192.86 L636.66 193.03 L637.83 193.2 L638.95 193.36 L640 193.5 L640.96 193.62 L641.86 193.73 L642.71 193.83 L643.53 193.93 L644.35 194.02 L645.19 194.13 L646.07 194.26 L647 194.4 L647.99 194.57 L649.02 194.75 L650.08 194.94 L651.16 195.14 L652.25 195.35 L653.34 195.57 L654.43 195.79 L655.5 196 L656.56 196.21 L657.62 196.43 L658.69 196.65 L659.75 196.88 L660.81 197.1 L661.88 197.33 L662.94 197.56 L664 197.8 L665.06 198.04 L666.12 198.28 L667.19 198.52 L668.25 198.76 L669.31 199.01 L670.38 199.27 L671.44 199.53 L672.5 199.8 L673.56 200.08 L674.62 200.36 L675.69 200.64 L676.75 200.93 L677.81 201.23 L678.88 201.54 L679.94 201.86 L681 202.2 L682.07 202.55 L683.14 202.91 L684.21 203.29 L685.28 203.67 L686.35 204.07 L687.41 204.47 L688.46 204.88 L689.5 205.3 L690.52 205.72 L691.53 206.14 L692.53 206.57 L693.52 207 L694.51 207.45 L695.5 207.91 L696.5 208.39 L697.5 208.9 L698.51 209.42 L699.53 209.93 L700.55 210.45 L701.57 211 L702.59 211.58 L703.61 212.2 L704.61 212.87 L705.6 213.6 L706.57 214.41 L707.52 215.29 L708.46 216.22 L709.4 217.19 L710.34 218.19 L711.28 219.2 L712.23 220.21 L713.2 221.2 L714.19 222.16 L715.19 223.11 L716.21 224.05 L717.23 225 L718.26 225.98 L719.28 226.99 L720.29 228.06 L721.3 229.2 L722.3 230.41 L723.3 231.69 L724.3 233.02 L725.3 234.39 L726.29 235.79 L727.27 237.2 L728.24 238.61 L729.2 240 L730.14 241.41 L731.08 242.85 L732 244.32 L732.92 245.78 L733.83 247.23 L734.72 248.65 L735.62 250.01 L736.5 251.3 L737.37 252.53 L738.21 253.72 L739.04 254.87 L739.87 255.98 L740.7 257.04 L741.54 258.07 L742.41 259.05 L743.3 260 L744.23 260.91 L745.18 261.8 L746.15 262.65 L747.14 263.46 L748.13 264.21 L749.13 264.91 L750.12 265.54 L751.1 266.1 L752.08 266.58 L753.05 267 L754.02 267.36 L755 267.65 L755.98 267.89 L756.95 268.07 L757.93 268.21 L758.9 268.3 L759.85 268.34 L760.77 268.33 L761.68 268.27 L762.6 268.16 L763.54 267.99 L764.52 267.78 L765.57 267.51 L766.7 267.2 L767.91 266.82 L769.19 266.37 L770.52 265.87 L771.91 265.31 L773.32 264.73 L774.77 264.12 L776.23 263.51 L777.7 262.9 L779.16 262.29 L780.63 261.67 L782.1 261.03 L783.61 260.37 L785.15 259.7 L786.76 259.01 L788.44 258.31 L790.2 257.6 L792.07 256.87 L794.04 256.11 L796.09 255.34 L798.2 254.56 L800.34 253.76 L802.48 252.97 L804.61 252.18 L806.7 251.4" fill="none" stroke="#ff0000" stroke-width="2.05"/>
</g>
<path d="M442.55 157.35 v5.7 M442.55 299.4 v-5.7 M454.95 157.35 v2.9 M454.95 299.4 v-2.9 M467.35 157.35 v2.9 M467.35 299.4 v-2.9 M479.75 157.35 v2.9 M479.75 299.4 v-2.9 M492.15 157.35 v2.9 M492.15 299.4 v-2.9 M504.55 157.35 v5.7 M504.55 299.4 v-5.7 M516.95 157.35 v2.9 M516.95 299.4 v-2.9 M529.35 157.35 v2.9 M529.35 299.4 v-2.9 M541.75 157.35 v2.9 M541.75 299.4 v-2.9 M554.15 157.35 v2.9 M554.15 299.4 v-2.9 M566.55 157.35 v5.7 M566.55 299.4 v-5.7 M578.95 157.35 v2.9 M578.95 299.4 v-2.9 M591.35 157.35 v2.9 M591.35 299.4 v-2.9 M603.75 157.35 v2.9 M603.75 299.4 v-2.9 M616.15 157.35 v2.9 M616.15 299.4 v-2.9 M628.55 157.35 v5.7 M628.55 299.4 v-5.7 M640.95 157.35 v2.9 M640.95 299.4 v-2.9 M653.35 157.35 v2.9 M653.35 299.4 v-2.9 M665.75 157.35 v2.9 M665.75 299.4 v-2.9 M678.15 157.35 v2.9 M678.15 299.4 v-2.9 M690.55 157.35 v5.7 M690.55 299.4 v-5.7 M702.95 157.35 v2.9 M702.95 299.4 v-2.9 M715.35 157.35 v2.9 M715.35 299.4 v-2.9 M727.75 157.35 v2.9 M727.75 299.4 v-2.9 M740.15 157.35 v2.9 M740.15 299.4 v-2.9 M752.55 157.35 v5.7 M752.55 299.4 v-5.7 M764.95 157.35 v2.9 M764.95 299.4 v-2.9 M777.35 157.35 v2.9 M777.35 299.4 v-2.9 M789.75 157.35 v2.9 M789.75 299.4 v-2.9 M802.15 157.35 v2.9 M802.15 299.4 v-2.9 M814.55 157.35 v5.7 M814.55 299.4 v-5.7 M441.55 291.65 h2.9 M814.5 291.65 h-2.9 M441.55 283.72 h5.7 M814.5 283.72 h-5.7 M441.55 275.79 h2.9 M814.5 275.79 h-2.9 M441.55 267.85 h2.9 M814.5 267.85 h-2.9 M441.55 259.92 h2.9 M814.5 259.92 h-2.9 M441.55 251.98 h5.7 M814.5 251.98 h-5.7 M441.55 244.05 h2.9 M814.5 244.05 h-2.9 M441.55 236.11 h2.9 M814.5 236.11 h-2.9 M441.55 228.18 h2.9 M814.5 228.18 h-2.9 M441.55 220.24 h5.7 M814.5 220.24 h-5.7 M441.55 212.31 h2.9 M814.5 212.31 h-2.9 M441.55 204.37 h2.9 M814.5 204.37 h-2.9 M441.55 196.44 h2.9 M814.5 196.44 h-2.9 M441.55 188.5 h5.7 M814.5 188.5 h-5.7 M441.55 180.56 h2.9 M814.5 180.56 h-2.9 M441.55 172.63 h2.9 M814.5 172.63 h-2.9 M441.55 164.7 h2.9 M814.5 164.7 h-2.9" stroke="#1c1c1c" stroke-width="1.0" fill="none"/>
<path d="M441.55 157.35 H814.5 V299.4 H441.55 Z" fill="none" stroke="#1c1c1c" stroke-width="1.05"/>
</g>
<defs><path id="gam" d="M0.1 3.9 C0.5 1.7 1.7 0.3 3.1 0.3 C4.7 0.3 5.5 1.6 5.9 3.6 L6.6 6.6 L9.95 0.3 L10.65 0.3 L6.95 7.7 C6.8 9.6 5.9 11.6 4.6 12.9 C4.2 13.3 3.5 13.3 3.2 12.9 C2.9 12.5 3.1 11.9 3.5 11.3 L5.6 7.7 L5.0 4.6 C4.7 3.0 4.1 1.7 3.0 1.7 C2.0 1.7 1.1 2.6 0.6 4.0 Z"/></defs>
<use href="#gam" x="275.2" y="124.9" fill="#111"/>
<use href="#gam" x="510.9" y="124.9" fill="#111"/>
<use href="#gam" x="273.1" y="276" fill="#111"/>
<use href="#gam" x="512.9" y="276" fill="#111"/>
<g style="will-change:transform;filter:grayscale(1)">
<text x="30.95" y="40.8" text-anchor="end" class="t">0</text>
<text x="30.95" y="70.47" text-anchor="end" class="t">−5</text>
<text x="30.95" y="100.13" text-anchor="end" class="t">−10</text>
<text x="30.95" y="129.8" text-anchor="end" class="t">−15</text>
<text x="440.95" y="53.02" text-anchor="end" class="t">5</text>
<text x="440.95" y="94.9" text-anchor="end" class="t">0</text>
<text x="440.95" y="136.78" text-anchor="end" class="t">−5</text>
<text x="30.95" y="187.24" text-anchor="end" class="t">0.6</text>
<text x="30.95" y="213.38" text-anchor="end" class="t">0.4</text>
<text x="30.95" y="239.52" text-anchor="end" class="t">0.2</text>
<text x="30.95" y="265.66" text-anchor="end" class="t">0.0</text>
<text x="30.95" y="291.8" text-anchor="end" class="t">−0.2</text>
<text x="31.55" y="314.2" class="t">0</text>
<text x="94.95" y="314.2" text-anchor="middle" class="t">50</text>
<text x="156.95" y="314.2" text-anchor="middle" class="t">100</text>
<text x="218.95" y="314.2" text-anchor="middle" class="t">150</text>
<text x="280.95" y="314.2" text-anchor="middle" class="t">200</text>
<text x="342.95" y="314.2" text-anchor="middle" class="t">250</text>
<text x="404.95" y="314.2" text-anchor="middle" class="t">300</text>
<text x="440.95" y="193.8" text-anchor="end" class="t">2</text>
<text x="440.95" y="225.54" text-anchor="end" class="t">0</text>
<text x="440.95" y="257.28" text-anchor="end" class="t">−2</text>
<text x="440.95" y="289.02" text-anchor="end" class="t">−4</text>
<text x="441.55" y="314.2" class="t">0</text>
<text x="504.95" y="314.2" text-anchor="middle" class="t">50</text>
<text x="566.95" y="314.2" text-anchor="middle" class="t">100</text>
<text x="628.95" y="314.2" text-anchor="middle" class="t">150</text>
<text x="690.95" y="314.2" text-anchor="middle" class="t">200</text>
<text x="752.95" y="314.2" text-anchor="middle" class="t">250</text>
<text x="814.95" y="314.2" text-anchor="middle" class="t">300</text>
<text x="286.3" y="137.6" class="gs">E1E1</text>
<text x="522" y="137.6" class="gs">M1M1</text>
<text x="284.2" y="288.7" class="gs">E1M2</text>
<text x="524" y="288.7" class="gs">M1E2</text>
<text x="394.8" y="337" class="w"><tspan class="wi">ω</tspan><tspan dx="3.2">[MeV]</tspan></text>
</g>
</svg>
</body></html>
